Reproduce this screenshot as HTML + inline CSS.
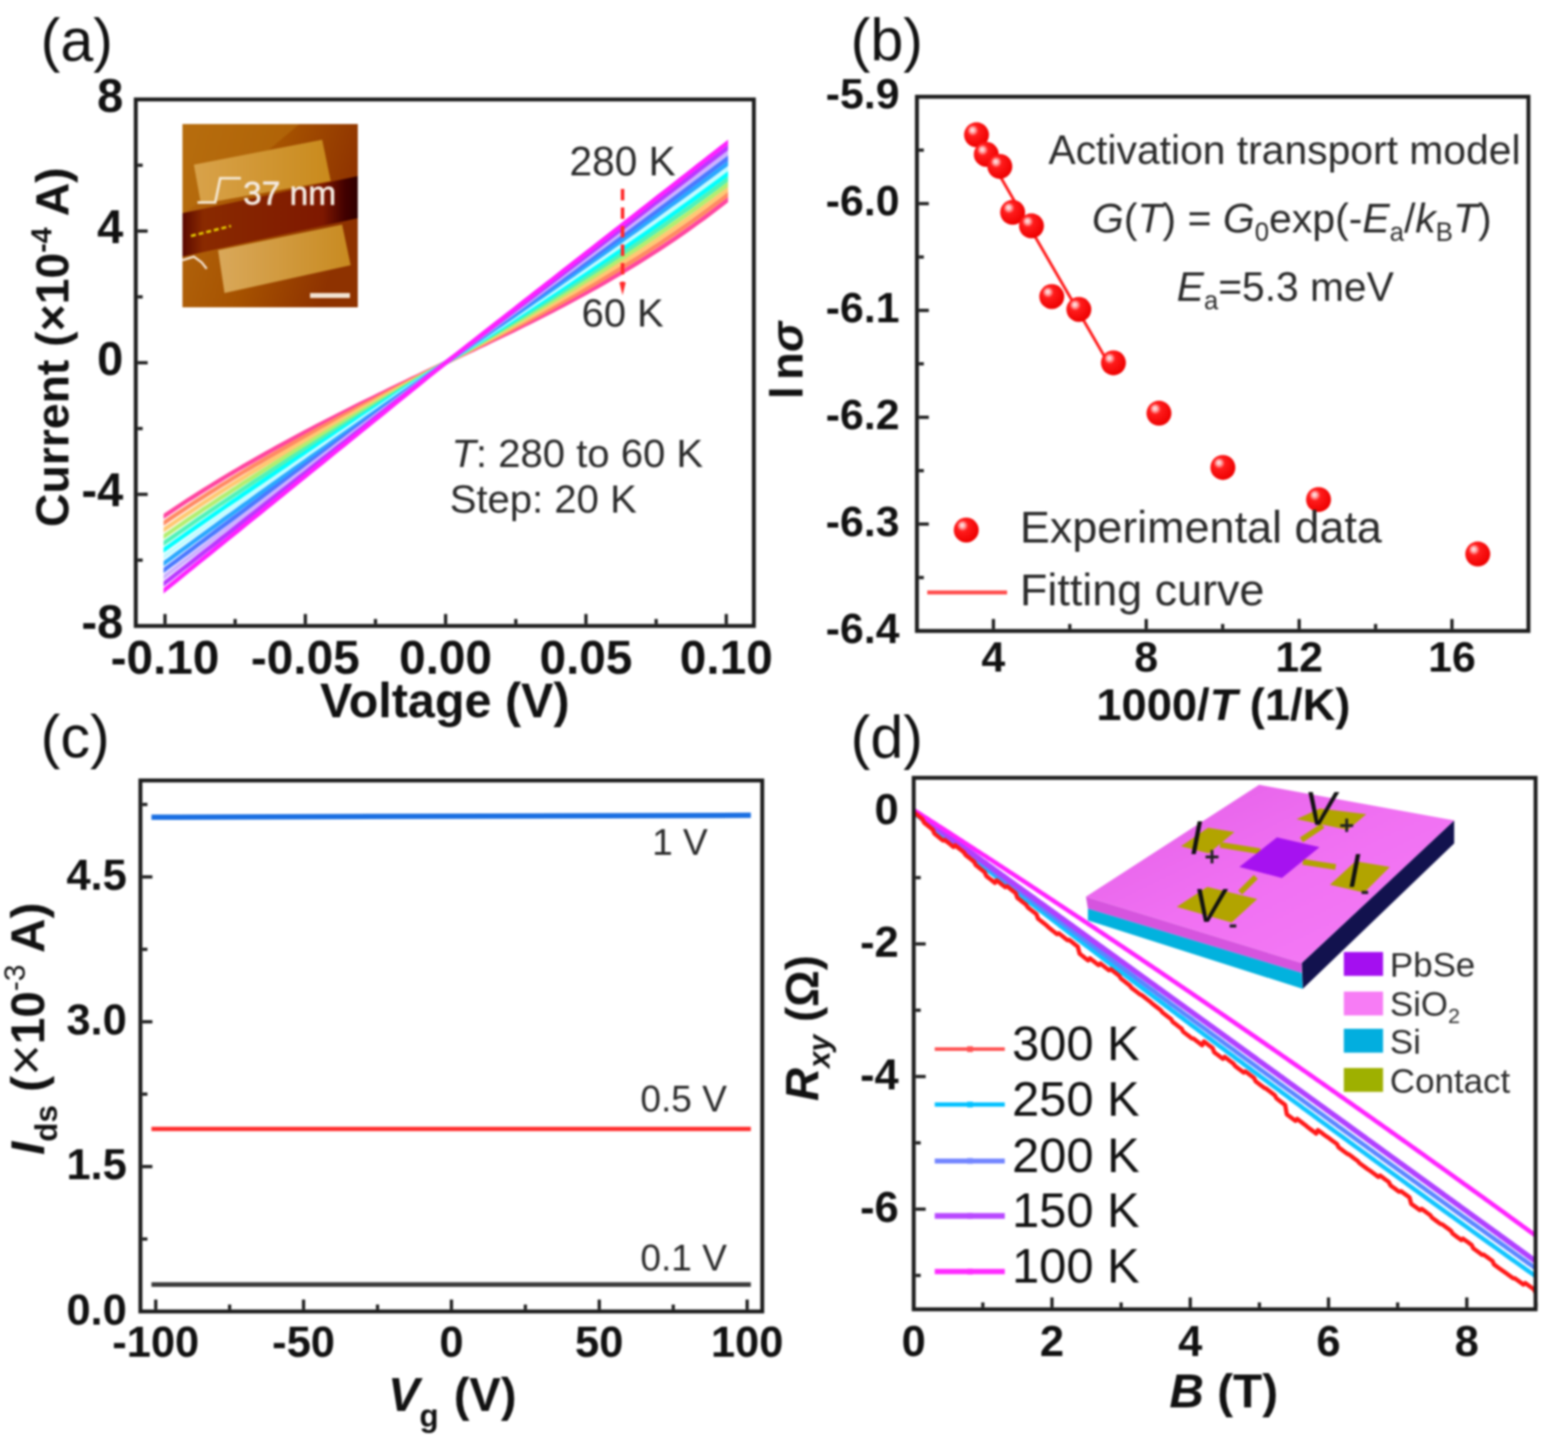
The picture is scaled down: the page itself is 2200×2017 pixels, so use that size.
<!DOCTYPE html>
<html><head><meta charset="utf-8"><title>Figure</title>
<style>
html,body{margin:0;padding:0;background:#fff;}
body{width:2200px;height:2017px;overflow:hidden;}
svg{display:block;font-family:'Liberation Sans', Arial, Helvetica, sans-serif;filter:blur(1.4px);}
</style></head>
<body>
<svg width="2200" height="2017" viewBox="0 0 2200 2017">
<rect width="2200" height="2017" fill="#fff"/>
<text x="57" y="84.5" font-size="83" font-weight="normal" font-style="normal" text-anchor="start" fill="#111" >(a)</text>
<text x="1193.5" y="85" font-size="83" font-weight="normal" font-style="normal" text-anchor="start" fill="#111" >(b)</text>
<text x="57" y="1062" font-size="83" font-weight="normal" font-style="normal" text-anchor="start" fill="#111" >(c)</text>
<text x="1193.5" y="1063" font-size="83" font-weight="normal" font-style="normal" text-anchor="start" fill="#111" >(d)</text>
<defs>
<linearGradient id="afmbg" x1="0" y1="0" x2="1" y2="0.3">
<stop offset="0" stop-color="#b56a10"/><stop offset="0.55" stop-color="#a65200"/><stop offset="1" stop-color="#8e3200"/>
</linearGradient>
<linearGradient id="elec1" x1="0" y1="0" x2="1" y2="0">
<stop offset="0" stop-color="#d8a24a"/><stop offset="1" stop-color="#c98a1c"/>
</linearGradient>
<linearGradient id="elec2" x1="0" y1="0" x2="1" y2="0">
<stop offset="0" stop-color="#d9a85a"/><stop offset="1" stop-color="#c88a20"/>
</linearGradient>
<linearGradient id="flake" x1="0" y1="0" x2="1" y2="0">
<stop offset="0" stop-color="#5a0800"/><stop offset="0.12" stop-color="#8a2a00"/><stop offset="0.8" stop-color="#7e1800"/><stop offset="0.93" stop-color="#400000"/><stop offset="1" stop-color="#300000"/>
</linearGradient>
<radialGradient id="ball" cx="0.4" cy="0.38" r="0.62" fx="0.33" fy="0.3">
<stop offset="0" stop-color="#fff2f2"/><stop offset="0.16" stop-color="#ffb0b0"/><stop offset="0.36" stop-color="#ff1c1c"/><stop offset="1" stop-color="#ee0000"/>
</radialGradient>
<linearGradient id="topface" x1="0" y1="0" x2="1" y2="1">
<stop offset="0" stop-color="#e25ee6"/><stop offset="0.5" stop-color="#f070f2"/><stop offset="1" stop-color="#f57cf5"/>
</linearGradient>
<clipPath id="clipA"><rect x="193" y="142" width="862" height="733"/></clipPath>
</defs>
<g>
<rect x="256" y="174" width="246" height="257" fill="url(#afmbg)"/>
<polygon points="256,174 420,174 330,250 256,300" fill="#b8700e" opacity="0.6"/>
<polygon points="272,231 452,196 464,254 282,286" fill="url(#elec1)"/>
<polygon points="256,299 502,247 502,306 256,360" fill="url(#flake)"/>
<polygon points="306,351 480,315 492,372 315,411" fill="url(#elec2)"/>
<polyline points="277,284 302,284 309,250 338,250" fill="none" stroke="#f5ead8" stroke-width="3.5"/>
<text x="341" y="287" font-size="47" font-weight="normal" fill="#f4ebe2" stroke="#f4ebe2" stroke-width="0.8" font-family="'Liberation Sans', Arial, Helvetica, sans-serif">37 nm</text>
<line x1="268" y1="331" x2="324" y2="317" stroke="#e8d000" stroke-width="3.5" stroke-dasharray="7,4"/>
<rect x="435" y="411" width="56" height="7" fill="#f2e2d2"/>
<polyline points="256,365 272,360 283,368 290,377" fill="none" stroke="#f5e6d6" stroke-width="3"/>
</g>
<clipPath id="rbclip"><rect x="229.5" y="150" width="792" height="720"/></clipPath>
<g clip-path="url(#rbclip)">
<polyline points="215.7,733.8 223.6,728.4 231.5,723 239.4,717.7 247.2,712.4 255.1,707.3 263,702.1 270.9,697.1 278.7,692.1 286.6,687.1 294.5,682.2 302.4,677.4 310.2,672.6 318.1,667.8 326,663.1 333.9,658.5 341.7,653.9 349.6,649.3 357.5,644.8 365.4,640.3 373.2,635.9 381.1,631.5 389,627.2 396.9,622.9 404.8,618.6 412.6,614.4 420.5,610.2 428.4,606 436.2,601.9 444.1,597.7 452,593.7 459.9,589.6 467.8,585.6 475.6,581.6 483.5,577.6 491.4,573.7 499.2,569.7 507.1,565.8 515,561.9 522.9,558.1 530.8,554.2 538.6,550.4 546.5,546.5 554.4,542.7 562.2,538.9 570.1,535.1 578,531.3 585.9,527.6 593.8,523.8 601.6,520 609.5,516.3 617.4,512.5 625.2,508.8 633.1,505 641,501.3 648.9,497.6 656.8,493.9 664.6,490.2 672.5,486.4 680.4,482.7 688.2,478.9 696.1,475.1 704,471.3 711.9,467.5 719.8,463.7 727.6,459.8 735.5,455.9 743.4,452 751.2,448 759.1,444.1 767,440.1 774.9,436 782.8,431.9 790.6,427.8 798.5,423.6 806.4,419.4 814.2,415.2 822.1,410.9 830,406.5 837.9,402.1 845.8,397.6 853.6,393.1 861.5,388.5 869.4,383.9 877.2,379.2 885.1,374.5 893,369.6 900.9,364.8 908.8,359.8 916.6,354.8 924.5,349.7 932.4,344.5 940.2,339.2 948.1,333.9 956,328.5 963.9,323 971.8,317.4 979.6,311.7 987.5,306 995.4,300.1 1003.2,294.2 1011.1,288.1 1019,282 1026.9,275.8 1034.8,269.4" fill="none" stroke="#ff45a0" stroke-width="6" stroke-linejoin="round"/>
<polyline points="215.7,743.4 223.6,737.9 231.5,732.5 239.4,727.1 247.2,721.8 255.1,716.5 263,711.3 270.9,706.1 278.7,701 286.6,695.9 294.5,690.9 302.4,686 310.2,681 318.1,676.2 326,671.3 333.9,666.5 341.7,661.8 349.6,657.1 357.5,652.4 365.4,647.8 373.2,643.2 381.1,638.6 389,634.1 396.9,629.6 404.8,625.1 412.6,620.7 420.5,616.3 428.4,611.9 436.2,607.6 444.1,603.2 452,599 459.9,594.7 467.8,590.4 475.6,586.2 483.5,582 491.4,577.8 499.2,573.7 507.1,569.5 515,565.4 522.9,561.3 530.8,557.2 538.6,553.1 546.5,549 554.4,545 562.2,540.9 570.1,536.9 578,532.9 585.9,528.8 593.8,524.8 601.6,520.8 609.5,516.8 617.4,512.8 625.2,508.8 633.1,504.8 641,500.8 648.9,496.9 656.8,492.9 664.6,488.9 672.5,484.9 680.4,480.9 688.2,476.9 696.1,472.9 704,468.8 711.9,464.8 719.8,460.7 727.6,456.6 735.5,452.5 743.4,448.3 751.2,444.2 759.1,440 767,435.7 774.9,431.5 782.8,427.2 790.6,422.9 798.5,418.5 806.4,414.1 814.2,409.7 822.1,405.2 830,400.6 837.9,396.1 845.8,391.5 853.6,386.8 861.5,382.1 869.4,377.3 877.2,372.5 885.1,367.6 893,362.7 900.9,357.7 908.8,352.7 916.6,347.6 924.5,342.4 932.4,337.1 940.2,331.8 948.1,326.5 956,321 963.9,315.5 971.8,309.9 979.6,304.2 987.5,298.5 995.4,292.7 1003.2,286.7 1011.1,280.8 1019,274.7 1026.9,268.5 1034.8,262.3" fill="none" stroke="#ff8a62" stroke-width="6" stroke-linejoin="round"/>
<polyline points="215.7,752.9 223.6,747.4 231.5,741.9 239.4,736.5 247.2,731.1 255.1,725.7 263,720.4 270.9,715.2 278.7,710 286.6,704.8 294.5,699.7 302.4,694.6 310.2,689.5 318.1,684.5 326,679.5 333.9,674.6 341.7,669.7 349.6,664.8 357.5,660 365.4,655.2 373.2,650.4 381.1,645.7 389,641 396.9,636.3 404.8,631.6 412.6,627 420.5,622.4 428.4,617.8 436.2,613.3 444.1,608.8 452,604.2 459.9,599.8 467.8,595.3 475.6,590.9 483.5,586.4 491.4,582 499.2,577.6 507.1,573.2 515,568.9 522.9,564.5 530.8,560.2 538.6,555.9 546.5,551.5 554.4,547.2 562.2,542.9 570.1,538.6 578,534.4 585.9,530.1 593.8,525.8 601.6,521.5 609.5,517.3 617.4,513 625.2,508.8 633.1,504.5 641,500.3 648.9,496.1 656.8,491.9 664.6,487.6 672.5,483.4 680.4,479.2 688.2,474.9 696.1,470.6 704,466.4 711.9,462.1 719.8,457.7 727.6,453.4 735.5,449.1 743.4,444.7 751.2,440.3 759.1,435.9 767,431.4 774.9,427 782.8,422.5 790.6,418 798.5,413.4 806.4,408.8 814.2,404.2 822.1,399.5 830,394.8 837.9,390.1 845.8,385.3 853.6,380.5 861.5,375.7 869.4,370.8 877.2,365.8 885.1,360.8 893,355.8 900.9,350.7 908.8,345.6 916.6,340.4 924.5,335.1 932.4,329.8 940.2,324.5 948.1,319 956,313.6 963.9,308 971.8,302.4 979.6,296.7 987.5,291 995.4,285.2 1003.2,279.3 1011.1,273.4 1019,267.4 1026.9,261.3 1034.8,255.1" fill="none" stroke="#ffc872" stroke-width="6" stroke-linejoin="round"/>
<polyline points="215.7,762.5 223.6,756.9 231.5,751.4 239.4,745.9 247.2,740.4 255.1,735 263,729.6 270.9,724.2 278.7,718.9 286.6,713.6 294.5,708.4 302.4,703.2 310.2,698 318.1,692.9 326,687.7 333.9,682.7 341.7,677.6 349.6,672.6 357.5,667.6 365.4,662.6 373.2,657.7 381.1,652.8 389,647.9 396.9,643 404.8,638.1 412.6,633.3 420.5,628.5 428.4,623.7 436.2,619 444.1,614.3 452,609.5 459.9,604.8 467.8,600.1 475.6,595.5 483.5,590.8 491.4,586.2 499.2,581.6 507.1,576.9 515,572.3 522.9,567.8 530.8,563.2 538.6,558.6 546.5,554 554.4,549.5 562.2,544.9 570.1,540.4 578,535.9 585.9,531.3 593.8,526.8 601.6,522.3 609.5,517.8 617.4,513.3 625.2,508.8 633.1,504.3 641,499.8 648.9,495.4 656.8,490.9 664.6,486.4 672.5,481.9 680.4,477.4 688.2,472.9 696.1,468.4 704,463.9 711.9,459.4 719.8,454.8 727.6,450.3 735.5,445.7 743.4,441.1 751.2,436.5 759.1,431.9 767,427.2 774.9,422.5 782.8,417.8 790.6,413.1 798.5,408.4 806.4,403.6 814.2,398.8 822.1,394 830,389.1 837.9,384.2 845.8,379.3 853.6,374.3 861.5,369.3 869.4,364.3 877.2,359.2 885.1,354.1 893,349 900.9,343.8 908.8,338.5 916.6,333.3 924.5,327.9 932.4,322.6 940.2,317.1 948.1,311.7 956,306.1 963.9,300.6 971.8,295 979.6,289.3 987.5,283.5 995.4,277.8 1003.2,271.9 1011.1,266 1019,260 1026.9,254 1034.8,247.9" fill="none" stroke="#b2ee70" stroke-width="6" stroke-linejoin="round"/>
<polyline points="215.7,772.1 223.6,766.4 231.5,760.8 239.4,755.2 247.2,749.7 255.1,744.2 263,738.7 270.9,733.3 278.7,727.8 286.6,722.5 294.5,717.1 302.4,711.8 310.2,706.4 318.1,701.2 326,695.9 333.9,690.7 341.7,685.5 349.6,680.3 357.5,675.1 365.4,670 373.2,664.9 381.1,659.8 389,654.7 396.9,649.7 404.8,644.6 412.6,639.6 420.5,634.6 428.4,629.6 436.2,624.7 444.1,619.7 452,614.8 459.9,609.9 467.8,605 475.6,600.1 483.5,595.2 491.4,590.3 499.2,585.5 507.1,580.6 515,575.8 522.9,571 530.8,566.1 538.6,561.3 546.5,556.5 554.4,551.7 562.2,546.9 570.1,542.2 578,537.4 585.9,532.6 593.8,527.8 601.6,523.1 609.5,518.3 617.4,513.5 625.2,508.8 633.1,504 641,499.3 648.9,494.6 656.8,489.9 664.6,485.2 672.5,480.5 680.4,475.7 688.2,471 696.1,466.3 704,461.5 711.9,456.7 719.8,452 727.6,447.2 735.5,442.4 743.4,437.6 751.2,432.8 759.1,427.9 767,423.1 774.9,418.2 782.8,413.3 790.6,408.4 798.5,403.4 806.4,398.5 814.2,393.5 822.1,388.5 830,383.5 837.9,378.4 845.8,373.3 853.6,368.2 861.5,363.1 869.4,357.9 877.2,352.7 885.1,347.5 893,342.2 900.9,336.9 908.8,331.6 916.6,326.2 924.5,320.8 932.4,315.4 940.2,309.9 948.1,304.4 956,298.8 963.9,293.2 971.8,287.6 979.6,281.9 987.5,276.1 995.4,270.3 1003.2,264.5 1011.1,258.6 1019,252.7 1026.9,246.8 1034.8,240.7" fill="none" stroke="#50f2b8" stroke-width="6" stroke-linejoin="round"/>
<polyline points="215.7,781.7 223.6,775.9 231.5,770.3 239.4,764.6 247.2,759 255.1,753.4 263,747.8 270.9,742.3 278.7,736.7 286.6,731.2 294.5,725.8 302.4,720.3 310.2,714.9 318.1,709.4 326,704 333.9,698.7 341.7,693.3 349.6,688 357.5,682.6 365.4,677.3 373.2,672 381.1,666.8 389,661.5 396.9,656.3 404.8,651 412.6,645.8 420.5,640.6 428.4,635.5 436.2,630.3 444.1,625.1 452,620 459.9,614.9 467.8,609.7 475.6,604.6 483.5,599.5 491.4,594.4 499.2,589.3 507.1,584.3 515,579.2 522.9,574.1 530.8,569.1 538.6,564 546.5,559 554.4,553.9 562.2,548.9 570.1,543.9 578,538.9 585.9,533.8 593.8,528.8 601.6,523.8 609.5,518.8 617.4,513.8 625.2,508.8 633.1,503.8 641,498.9 648.9,493.9 656.8,489 664.6,484 672.5,479.1 680.4,474.1 688.2,469.1 696.1,464.2 704,459.2 711.9,454.2 719.8,449.2 727.6,444.2 735.5,439.2 743.4,434.1 751.2,429.1 759.1,424.1 767,419 774.9,413.9 782.8,408.8 790.6,403.7 798.5,398.6 806.4,393.5 814.2,388.3 822.1,383.1 830,377.9 837.9,372.7 845.8,367.5 853.6,362.2 861.5,356.9 869.4,351.6 877.2,346.3 885.1,340.9 893,335.6 900.9,330.2 908.8,324.7 916.6,319.3 924.5,313.8 932.4,308.3 940.2,302.7 948.1,297.1 956,291.5 963.9,285.9 971.8,280.2 979.6,274.5 987.5,268.8 995.4,263 1003.2,257.2 1011.1,251.3 1019,245.4 1026.9,239.5 1034.8,233.5" fill="none" stroke="#00ffff" stroke-width="6" stroke-linejoin="round"/>
<polyline points="215.7,791.3 223.6,785.5 231.5,779.7 239.4,774 247.2,768.3 255.1,762.6 263,756.9 270.9,751.3 278.7,745.6 286.6,740 294.5,734.4 302.4,728.8 310.2,723.2 318.1,717.6 326,712.1 333.9,706.6 341.7,701.1 349.6,695.6 357.5,690.1 365.4,684.6 373.2,679.1 381.1,673.7 389,668.2 396.9,662.8 404.8,657.4 412.6,652 420.5,646.6 428.4,641.2 436.2,635.8 444.1,630.5 452,625.1 459.9,619.8 467.8,614.4 475.6,609.1 483.5,603.8 491.4,598.5 499.2,593.1 507.1,587.8 515,582.5 522.9,577.2 530.8,572 538.6,566.7 546.5,561.4 554.4,556.1 562.2,550.8 570.1,545.6 578,540.3 585.9,535 593.8,529.8 601.6,524.5 609.5,519.3 617.4,514 625.2,508.8 633.1,503.6 641,498.4 648.9,493.2 656.8,488 664.6,482.9 672.5,477.7 680.4,472.5 688.2,467.3 696.1,462.1 704,456.9 711.9,451.7 719.8,446.5 727.6,441.3 735.5,436 743.4,430.8 751.2,425.6 759.1,420.3 767,415 774.9,409.8 782.8,404.5 790.6,399.2 798.5,393.9 806.4,388.6 814.2,383.2 822.1,377.9 830,372.5 837.9,367.2 845.8,361.8 853.6,356.4 861.5,350.9 869.4,345.5 877.2,340 885.1,334.6 893,329.1 900.9,323.5 908.8,318 916.6,312.5 924.5,306.9 932.4,301.3 940.2,295.7 948.1,290 956,284.3 963.9,278.7 971.8,272.9 979.6,267.2 987.5,261.4 995.4,255.6 1003.2,249.8 1011.1,244 1019,238.1 1026.9,232.2 1034.8,226.3" fill="none" stroke="#c4fbff" stroke-width="6" stroke-linejoin="round"/>
<polyline points="215.7,800.9 223.6,795 231.5,789.2 239.4,783.4 247.2,777.5 255.1,771.7 263,766 270.9,760.2 278.7,754.4 286.6,748.7 294.5,742.9 302.4,737.2 310.2,731.5 318.1,725.8 326,720.1 333.9,714.4 341.7,708.7 349.6,703.1 357.5,697.4 365.4,691.8 373.2,686.1 381.1,680.5 389,674.9 396.9,669.3 404.8,663.6 412.6,658 420.5,652.5 428.4,646.9 436.2,641.3 444.1,635.7 452,630.2 459.9,624.6 467.8,619 475.6,613.5 483.5,608 491.4,602.4 499.2,596.9 507.1,591.4 515,585.8 522.9,580.3 530.8,574.8 538.6,569.3 546.5,563.8 554.4,558.3 562.2,552.7 570.1,547.2 578,541.7 585.9,536.2 593.8,530.7 601.6,525.2 609.5,519.7 617.4,514.2 625.2,508.8 633.1,503.4 641,498 648.9,492.6 656.8,487.2 664.6,481.8 672.5,476.4 680.4,471 688.2,465.6 696.1,460.1 704,454.7 711.9,449.3 719.8,443.9 727.6,438.5 735.5,433 743.4,427.6 751.2,422.1 759.1,416.7 767,411.2 774.9,405.8 782.8,400.3 790.6,394.8 798.5,389.3 806.4,383.9 814.2,378.3 822.1,372.8 830,367.3 837.9,361.8 845.8,356.2 853.6,350.7 861.5,345.1 869.4,339.5 877.2,333.9 885.1,328.3 893,322.7 900.9,317.1 908.8,311.4 916.6,305.8 924.5,300.1 932.4,294.4 940.2,288.7 948.1,283 956,277.3 963.9,271.5 971.8,265.8 979.6,260 987.5,254.2 995.4,248.3 1003.2,242.5 1011.1,236.7 1019,230.8 1026.9,224.9 1034.8,219" fill="none" stroke="#2aa8ff" stroke-width="6" stroke-linejoin="round"/>
<polyline points="215.7,810.5 223.6,804.6 231.5,798.6 239.4,792.7 247.2,786.8 255.1,780.9 263,775 270.9,769.1 278.7,763.2 286.6,757.3 294.5,751.4 302.4,745.5 310.2,739.7 318.1,733.8 326,728 333.9,722.1 341.7,716.3 349.6,710.4 357.5,704.6 365.4,698.8 373.2,693 381.1,687.2 389,681.4 396.9,675.6 404.8,669.8 412.6,664 420.5,658.2 428.4,652.4 436.2,646.6 444.1,640.9 452,635.1 459.9,629.3 467.8,623.5 475.6,617.8 483.5,612 491.4,606.3 499.2,600.5 507.1,594.8 515,589 522.9,583.3 530.8,577.5 538.6,571.8 546.5,566.1 554.4,560.3 562.2,554.6 570.1,548.9 578,543.1 585.9,537.4 593.8,531.7 601.6,525.9 609.5,520.2 617.4,514.5 625.2,508.8 633.1,503.1 641,497.5 648.9,491.9 656.8,486.3 664.6,480.7 672.5,475.1 680.4,469.5 688.2,463.9 696.1,458.3 704,452.7 711.9,447 719.8,441.4 727.6,435.8 735.5,430.2 743.4,424.5 751.2,418.9 759.1,413.3 767,407.6 774.9,402 782.8,396.3 790.6,390.7 798.5,385 806.4,379.3 814.2,373.7 822.1,368 830,362.3 837.9,356.6 845.8,350.9 853.6,345.2 861.5,339.5 869.4,333.8 877.2,328.1 885.1,322.3 893,316.6 900.9,310.8 908.8,305.1 916.6,299.3 924.5,293.5 932.4,287.7 940.2,282 948.1,276.2 956,270.3 963.9,264.5 971.8,258.7 979.6,252.8 987.5,247 995.4,241.1 1003.2,235.2 1011.1,229.4 1019,223.5 1026.9,217.5 1034.8,211.6" fill="none" stroke="#4a78ff" stroke-width="6" stroke-linejoin="round"/>
<polyline points="215.7,820.2 223.6,814.1 231.5,808.1 239.4,802 247.2,796 255.1,789.9 263,783.9 270.9,777.9 278.7,771.8 286.6,765.8 294.5,759.8 302.4,753.7 310.2,747.7 318.1,741.7 326,735.7 333.9,729.7 341.7,723.7 349.6,717.7 357.5,711.7 365.4,705.7 373.2,699.7 381.1,693.7 389,687.7 396.9,681.7 404.8,675.7 412.6,669.7 420.5,663.8 428.4,657.8 436.2,651.8 444.1,645.8 452,639.9 459.9,633.9 467.8,627.9 475.6,621.9 483.5,616 491.4,610 499.2,604 507.1,598.1 515,592.1 522.9,586.2 530.8,580.2 538.6,574.2 546.5,568.3 554.4,562.3 562.2,556.4 570.1,550.4 578,544.5 585.9,538.5 593.8,532.6 601.6,526.6 609.5,520.7 617.4,514.7 625.2,508.8 633.1,502.9 641,497.1 648.9,491.3 656.8,485.5 664.6,479.7 672.5,473.9 680.4,468.1 688.2,462.3 696.1,456.5 704,450.7 711.9,444.9 719.8,439.1 727.6,433.3 735.5,427.5 743.4,421.6 751.2,415.8 759.1,410 767,404.2 774.9,398.4 782.8,392.5 790.6,386.7 798.5,380.9 806.4,375 814.2,369.2 822.1,363.4 830,357.5 837.9,351.7 845.8,345.8 853.6,340 861.5,334.1 869.4,328.3 877.2,322.4 885.1,316.5 893,310.7 900.9,304.8 908.8,298.9 916.6,293 924.5,287.2 932.4,281.3 940.2,275.4 948.1,269.5 956,263.6 963.9,257.7 971.8,251.7 979.6,245.8 987.5,239.9 995.4,234 1003.2,228 1011.1,222.1 1019,216.1 1026.9,210.2 1034.8,204.2" fill="none" stroke="#cdb2ff" stroke-width="6" stroke-linejoin="round"/>
<polyline points="215.7,829.9 223.6,823.7 231.5,817.5 239.4,811.3 247.2,805.2 255.1,799 263,792.8 270.9,786.6 278.7,780.4 286.6,774.2 294.5,768 302.4,761.8 310.2,755.6 318.1,749.5 326,743.3 333.9,737.1 341.7,730.9 349.6,724.7 357.5,718.5 365.4,712.4 373.2,706.2 381.1,700 389,693.8 396.9,687.7 404.8,681.5 412.6,675.3 420.5,669.1 428.4,663 436.2,656.8 444.1,650.6 452,644.4 459.9,638.3 467.8,632.1 475.6,625.9 483.5,619.8 491.4,613.6 499.2,607.4 507.1,601.3 515,595.1 522.9,588.9 530.8,582.7 538.6,576.6 546.5,570.4 554.4,564.2 562.2,558.1 570.1,551.9 578,545.7 585.9,539.6 593.8,533.4 601.6,527.2 609.5,521.1 617.4,514.9 625.2,508.8 633.1,502.8 641,496.8 648.9,490.8 656.8,484.8 664.6,478.8 672.5,472.8 680.4,466.9 688.2,460.9 696.1,454.9 704,448.9 711.9,442.9 719.8,436.9 727.6,430.9 735.5,425 743.4,419 751.2,413 759.1,407 767,401 774.9,395 782.8,389 790.6,383 798.5,377 806.4,371 814.2,365.1 822.1,359.1 830,353.1 837.9,347.1 845.8,341.1 853.6,335.1 861.5,329.1 869.4,323.1 877.2,317.1 885.1,311.1 893,305.1 900.9,299.1 908.8,293.1 916.6,287 924.5,281 932.4,275 940.2,269 948.1,263 956,257 963.9,251 971.8,245 979.6,238.9 987.5,232.9 995.4,226.9 1003.2,220.9 1011.1,214.8 1019,208.8 1026.9,202.8 1034.8,196.8" fill="none" stroke="#b838ff" stroke-width="6" stroke-linejoin="round"/>
<polyline points="215.7,839.7 223.6,833.4 231.5,827 239.4,820.6 247.2,814.3 255.1,807.9 263,801.5 270.9,795.2 278.7,788.8 286.6,782.4 294.5,776.1 302.4,769.7 310.2,763.4 318.1,757 326,750.6 333.9,744.3 341.7,737.9 349.6,731.5 357.5,725.2 365.4,718.8 373.2,712.4 381.1,706.1 389,699.7 396.9,693.3 404.8,687 412.6,680.6 420.5,674.2 428.4,667.9 436.2,661.5 444.1,655.1 452,648.8 459.9,642.4 467.8,636 475.6,629.7 483.5,623.3 491.4,617 499.2,610.6 507.1,604.2 515,597.9 522.9,591.5 530.8,585.1 538.6,578.8 546.5,572.4 554.4,566 562.2,559.7 570.1,553.3 578,546.9 585.9,540.6 593.8,534.2 601.6,527.8 609.5,521.5 617.4,515.1 625.2,508.8 633.1,502.6 641,496.5 648.9,490.3 656.8,484.2 664.6,478 672.5,471.9 680.4,465.7 688.2,459.6 696.1,453.4 704,447.3 711.9,441.2 719.8,435 727.6,428.9 735.5,422.7 743.4,416.6 751.2,410.4 759.1,404.3 767,398.1 774.9,392 782.8,385.9 790.6,379.7 798.5,373.6 806.4,367.4 814.2,361.3 822.1,355.1 830,349 837.9,342.8 845.8,336.7 853.6,330.5 861.5,324.4 869.4,318.3 877.2,312.1 885.1,306 893,299.8 900.9,293.7 908.8,287.5 916.6,281.4 924.5,275.2 932.4,269.1 940.2,263 948.1,256.8 956,250.7 963.9,244.5 971.8,238.4 979.6,232.2 987.5,226.1 995.4,219.9 1003.2,213.8 1011.1,207.6 1019,201.5 1026.9,195.4 1034.8,189.2" fill="none" stroke="#ff20ff" stroke-width="6" stroke-linejoin="round"/>
</g>
<line x1="873.5" y1="265" x2="873.5" y2="400" stroke="#ff2a2a" stroke-width="5" stroke-dasharray="16,10"/>
<polygon points="869,396 878,396 873.5,414" fill="#ff2a2a"/>
<text x="799" y="246" font-size="57" font-weight="normal" font-style="normal" text-anchor="start" fill="#2a2a2a" >280 K</text>
<text x="816" y="458" font-size="56" font-weight="normal" font-style="normal" text-anchor="start" fill="#2a2a2a" >60 K</text>
<text x="633.5" y="655" font-size="56.2" font-weight="normal" font-style="normal" text-anchor="start" fill="#2a2a2a" ><tspan font-style="italic">T</tspan>: 280 to 60 K</text>
<text x="631" y="719" font-size="56.2" font-weight="normal" font-style="normal" text-anchor="start" fill="#2a2a2a" >Step: 20 K</text>
<rect x="190.5" y="139.5" width="867.2" height="738.5" fill="none" stroke="#1c1c1c" stroke-width="5.5"/>
<line x1="231.5" y1="875.2" x2="231.5" y2="861.2" stroke="#1c1c1c" stroke-width="4.5"/>
<line x1="329.9" y1="875.2" x2="329.9" y2="868.2" stroke="#1c1c1c" stroke-width="4.5"/>
<line x1="428.4" y1="875.2" x2="428.4" y2="861.2" stroke="#1c1c1c" stroke-width="4.5"/>
<line x1="526.8" y1="875.2" x2="526.8" y2="868.2" stroke="#1c1c1c" stroke-width="4.5"/>
<line x1="625.2" y1="875.2" x2="625.2" y2="861.2" stroke="#1c1c1c" stroke-width="4.5"/>
<line x1="723.7" y1="875.2" x2="723.7" y2="868.2" stroke="#1c1c1c" stroke-width="4.5"/>
<line x1="822.1" y1="875.2" x2="822.1" y2="861.2" stroke="#1c1c1c" stroke-width="4.5"/>
<line x1="920.6" y1="875.2" x2="920.6" y2="868.2" stroke="#1c1c1c" stroke-width="4.5"/>
<line x1="1019" y1="875.2" x2="1019" y2="861.2" stroke="#1c1c1c" stroke-width="4.5"/>
<line x1="193.2" y1="785.7" x2="200.2" y2="785.7" stroke="#1c1c1c" stroke-width="4.5"/>
<line x1="193.2" y1="693.4" x2="207.2" y2="693.4" stroke="#1c1c1c" stroke-width="4.5"/>
<line x1="193.2" y1="601.1" x2="200.2" y2="601.1" stroke="#1c1c1c" stroke-width="4.5"/>
<line x1="193.2" y1="508.8" x2="207.2" y2="508.8" stroke="#1c1c1c" stroke-width="4.5"/>
<line x1="193.2" y1="416.4" x2="200.2" y2="416.4" stroke="#1c1c1c" stroke-width="4.5"/>
<line x1="193.2" y1="324.1" x2="207.2" y2="324.1" stroke="#1c1c1c" stroke-width="4.5"/>
<line x1="193.2" y1="231.8" x2="200.2" y2="231.8" stroke="#1c1c1c" stroke-width="4.5"/>
<text x="231.5" y="945" font-size="67" font-weight="bold" font-style="normal" text-anchor="middle" fill="#111" >-0.10</text>
<text x="428.4" y="945" font-size="67" font-weight="bold" font-style="normal" text-anchor="middle" fill="#111" >-0.05</text>
<text x="625.2" y="945" font-size="67" font-weight="bold" font-style="normal" text-anchor="middle" fill="#111" >0.00</text>
<text x="822.1" y="945" font-size="67" font-weight="bold" font-style="normal" text-anchor="middle" fill="#111" >0.05</text>
<text x="1019" y="945" font-size="67" font-weight="bold" font-style="normal" text-anchor="middle" fill="#111" >0.10</text>
<text x="173" y="156.5" font-size="66" font-weight="bold" font-style="normal" text-anchor="end" fill="#111" >8</text>
<text x="173" y="341.1" font-size="66" font-weight="bold" font-style="normal" text-anchor="end" fill="#111" >4</text>
<text x="173" y="525.8" font-size="66" font-weight="bold" font-style="normal" text-anchor="end" fill="#111" >0</text>
<text x="173" y="710.4" font-size="66" font-weight="bold" font-style="normal" text-anchor="end" fill="#111" >-4</text>
<text x="173" y="895" font-size="66" font-weight="bold" font-style="normal" text-anchor="end" fill="#111" >-8</text>
<text x="624" y="1006" font-size="68" font-weight="bold" font-style="normal" text-anchor="middle" fill="#111" >Voltage (V)</text>
<text transform="translate(96,487) rotate(-90)" font-size="65" font-weight="bold" text-anchor="middle" fill="#111">Current (×10<tspan font-size="40" dy="-24">-4</tspan><tspan dy="24"> A)</tspan></text>
<rect x="1286.5" y="135.7" width="858" height="749.3" fill="none" stroke="#1c1c1c" stroke-width="5.5"/>
<line x1="1393.8" y1="882.2" x2="1393.8" y2="868.2" stroke="#1c1c1c" stroke-width="4.5"/>
<line x1="1501" y1="882.2" x2="1501" y2="875.2" stroke="#1c1c1c" stroke-width="4.5"/>
<line x1="1608.2" y1="882.2" x2="1608.2" y2="868.2" stroke="#1c1c1c" stroke-width="4.5"/>
<line x1="1715.5" y1="882.2" x2="1715.5" y2="875.2" stroke="#1c1c1c" stroke-width="4.5"/>
<line x1="1822.8" y1="882.2" x2="1822.8" y2="868.2" stroke="#1c1c1c" stroke-width="4.5"/>
<line x1="1930" y1="882.2" x2="1930" y2="875.2" stroke="#1c1c1c" stroke-width="4.5"/>
<line x1="2037.2" y1="882.2" x2="2037.2" y2="868.2" stroke="#1c1c1c" stroke-width="4.5"/>
<line x1="1289.2" y1="210.6" x2="1296.2" y2="210.6" stroke="#1c1c1c" stroke-width="4.5"/>
<line x1="1289.2" y1="285.6" x2="1303.2" y2="285.6" stroke="#1c1c1c" stroke-width="4.5"/>
<line x1="1289.2" y1="360.5" x2="1296.2" y2="360.5" stroke="#1c1c1c" stroke-width="4.5"/>
<line x1="1289.2" y1="435.4" x2="1303.2" y2="435.4" stroke="#1c1c1c" stroke-width="4.5"/>
<line x1="1289.2" y1="510.3" x2="1296.2" y2="510.3" stroke="#1c1c1c" stroke-width="4.5"/>
<line x1="1289.2" y1="585.3" x2="1303.2" y2="585.3" stroke="#1c1c1c" stroke-width="4.5"/>
<line x1="1289.2" y1="660.2" x2="1296.2" y2="660.2" stroke="#1c1c1c" stroke-width="4.5"/>
<line x1="1289.2" y1="735.1" x2="1303.2" y2="735.1" stroke="#1c1c1c" stroke-width="4.5"/>
<line x1="1289.2" y1="810.1" x2="1296.2" y2="810.1" stroke="#1c1c1c" stroke-width="4.5"/>
<text x="1393.8" y="942" font-size="60" font-weight="bold" font-style="normal" text-anchor="middle" fill="#111" >4</text>
<text x="1608.2" y="942" font-size="60" font-weight="bold" font-style="normal" text-anchor="middle" fill="#111" >8</text>
<text x="1822.8" y="942" font-size="60" font-weight="bold" font-style="normal" text-anchor="middle" fill="#111" >12</text>
<text x="2037.2" y="942" font-size="60" font-weight="bold" font-style="normal" text-anchor="middle" fill="#111" >16</text>
<text x="1262" y="152.2" font-size="60" font-weight="bold" font-style="normal" text-anchor="end" fill="#111" >-5.9</text>
<text x="1262" y="302.1" font-size="60" font-weight="bold" font-style="normal" text-anchor="end" fill="#111" >-6.0</text>
<text x="1262" y="451.9" font-size="60" font-weight="bold" font-style="normal" text-anchor="end" fill="#111" >-6.1</text>
<text x="1262" y="601.8" font-size="60" font-weight="bold" font-style="normal" text-anchor="end" fill="#111" >-6.2</text>
<text x="1262" y="751.6" font-size="60" font-weight="bold" font-style="normal" text-anchor="end" fill="#111" >-6.3</text>
<text x="1262" y="901.5" font-size="60" font-weight="bold" font-style="normal" text-anchor="end" fill="#111" >-6.4</text>
<line x1="1368" y1="186.5" x2="1562" y2="521.3" stroke="#ff1a1a" stroke-width="4"/>
<circle cx="1370.1" cy="189.1" r="17.5" fill="url(#ball)"/>
<circle cx="1383.8" cy="216.5" r="17.5" fill="url(#ball)"/>
<circle cx="1402.8" cy="233.4" r="17.5" fill="url(#ball)"/>
<circle cx="1420.8" cy="297.8" r="17.5" fill="url(#ball)"/>
<circle cx="1447.2" cy="316.8" r="17.5" fill="url(#ball)"/>
<circle cx="1475.7" cy="416" r="17.5" fill="url(#ball)"/>
<circle cx="1513.7" cy="434" r="17.5" fill="url(#ball)"/>
<circle cx="1562.2" cy="508.9" r="17.5" fill="url(#ball)"/>
<circle cx="1626.1" cy="579.6" r="17.5" fill="url(#ball)"/>
<circle cx="1715.8" cy="655.7" r="17.5" fill="url(#ball)"/>
<circle cx="1850" cy="700.7" r="17.5" fill="url(#ball)"/>
<circle cx="2073.4" cy="777.1" r="17.5" fill="url(#ball)"/>
<circle cx="1355.7" cy="743.5" r="17.5" fill="url(#ball)"/>
<line x1="1301" y1="831" x2="1413" y2="831" stroke="#ff4848" stroke-width="5.5"/>
<text x="1431" y="761" font-size="63" font-weight="normal" font-style="normal" text-anchor="start" fill="#2a2a2a" >Experimental data</text>
<text x="1431" y="849" font-size="63" font-weight="normal" font-style="normal" text-anchor="start" fill="#2a2a2a" >Fitting curve</text>
<text x="1471" y="230" font-size="57.3" font-weight="normal" font-style="normal" text-anchor="start" fill="#2a2a2a" >Activation transport model</text>
<text x="1532" y="326" font-size="57.5" fill="#2a2a2a"><tspan font-style="italic">G</tspan>(<tspan font-style="italic">T</tspan>) = <tspan font-style="italic">G</tspan><tspan font-size="36" dy="12">0</tspan><tspan dy="-12">exp(-</tspan><tspan font-style="italic">E</tspan><tspan font-size="36" dy="12">a</tspan><tspan dy="-12">/</tspan><tspan font-style="italic">k</tspan><tspan font-size="36" dy="12">B</tspan><tspan dy="-12" font-style="italic">T</tspan>)</text>
<text x="1651" y="422" font-size="57.2" fill="#2a2a2a"><tspan font-style="italic">E</tspan><tspan font-size="36" dy="12">a</tspan><tspan dy="-12">=5.3 meV</tspan></text>
<text x="1716.5" y="1009.5" font-size="63.5" font-weight="bold" font-style="normal" text-anchor="middle" fill="#111" >1000/<tspan font-style="italic">T</tspan> (1/K)</text>
<text transform="translate(1126,505.5) rotate(-90)" font-size="64" font-weight="bold" text-anchor="middle" fill="#111">l<tspan dx="9">n</tspan><tspan font-style="italic">σ</tspan></text>
<line x1="212.5" y1="1146.3" x2="1053.5" y2="1143.6" stroke="#1a6fe2" stroke-width="7.5"/>
<line x1="212.5" y1="1583.6" x2="1053.5" y2="1583.6" stroke="#ff2b2b" stroke-width="6"/>
<line x1="212.5" y1="1801.8" x2="1053.5" y2="1801.8" stroke="#3a3a3a" stroke-width="6.5"/>
<text x="915" y="1199" font-size="52" font-weight="normal" font-style="normal" text-anchor="start" fill="#2a2a2a" >1 V</text>
<text x="898.5" y="1558.5" font-size="52" font-weight="normal" font-style="normal" text-anchor="start" fill="#2a2a2a" >0.5 V</text>
<text x="898.5" y="1782" font-size="52" font-weight="normal" font-style="normal" text-anchor="start" fill="#2a2a2a" >0.1 V</text>
<rect x="197" y="1094.7" width="872.5" height="744.8" fill="none" stroke="#1c1c1c" stroke-width="5.5"/>
<line x1="218.5" y1="1836.8" x2="218.5" y2="1822.8" stroke="#1c1c1c" stroke-width="4.5"/>
<line x1="322.2" y1="1836.8" x2="322.2" y2="1829.8" stroke="#1c1c1c" stroke-width="4.5"/>
<line x1="425.9" y1="1836.8" x2="425.9" y2="1822.8" stroke="#1c1c1c" stroke-width="4.5"/>
<line x1="529.7" y1="1836.8" x2="529.7" y2="1829.8" stroke="#1c1c1c" stroke-width="4.5"/>
<line x1="633.4" y1="1836.8" x2="633.4" y2="1822.8" stroke="#1c1c1c" stroke-width="4.5"/>
<line x1="737.1" y1="1836.8" x2="737.1" y2="1829.8" stroke="#1c1c1c" stroke-width="4.5"/>
<line x1="840.8" y1="1836.8" x2="840.8" y2="1822.8" stroke="#1c1c1c" stroke-width="4.5"/>
<line x1="944.6" y1="1836.8" x2="944.6" y2="1829.8" stroke="#1c1c1c" stroke-width="4.5"/>
<line x1="1048.3" y1="1836.8" x2="1048.3" y2="1822.8" stroke="#1c1c1c" stroke-width="4.5"/>
<line x1="199.8" y1="1737.9" x2="206.8" y2="1737.9" stroke="#1c1c1c" stroke-width="4.5"/>
<line x1="199.8" y1="1636.3" x2="213.8" y2="1636.3" stroke="#1c1c1c" stroke-width="4.5"/>
<line x1="199.8" y1="1534.7" x2="206.8" y2="1534.7" stroke="#1c1c1c" stroke-width="4.5"/>
<line x1="199.8" y1="1433.2" x2="213.8" y2="1433.2" stroke="#1c1c1c" stroke-width="4.5"/>
<line x1="199.8" y1="1331.6" x2="206.8" y2="1331.6" stroke="#1c1c1c" stroke-width="4.5"/>
<line x1="199.8" y1="1230" x2="213.8" y2="1230" stroke="#1c1c1c" stroke-width="4.5"/>
<line x1="199.8" y1="1128.4" x2="206.8" y2="1128.4" stroke="#1c1c1c" stroke-width="4.5"/>
<text x="218.5" y="1903" font-size="61" font-weight="bold" font-style="normal" text-anchor="middle" fill="#111" >-100</text>
<text x="425.9" y="1903" font-size="61" font-weight="bold" font-style="normal" text-anchor="middle" fill="#111" >-50</text>
<text x="633.4" y="1903" font-size="61" font-weight="bold" font-style="normal" text-anchor="middle" fill="#111" >0</text>
<text x="840.8" y="1903" font-size="61" font-weight="bold" font-style="normal" text-anchor="middle" fill="#111" >50</text>
<text x="1048.3" y="1903" font-size="61" font-weight="bold" font-style="normal" text-anchor="middle" fill="#111" >100</text>
<text x="178" y="1857.5" font-size="61" font-weight="bold" font-style="normal" text-anchor="end" fill="#111" >0.0</text>
<text x="178" y="1654.3" font-size="61" font-weight="bold" font-style="normal" text-anchor="end" fill="#111" >1.5</text>
<text x="178" y="1451.2" font-size="61" font-weight="bold" font-style="normal" text-anchor="end" fill="#111" >3.0</text>
<text x="178" y="1248" font-size="61" font-weight="bold" font-style="normal" text-anchor="end" fill="#111" >4.5</text>
<text x="634.5" y="1979" font-size="66" font-weight="bold" text-anchor="middle" fill="#111"><tspan font-style="italic">V</tspan><tspan font-size="44" dy="22">g</tspan><tspan dy="-22" dx="3"> (V)</tspan></text>
<text transform="translate(61.5,1443) rotate(-90)" font-size="67" font-weight="bold" text-anchor="middle" fill="#111"><tspan font-style="italic">I</tspan><tspan font-size="44" dy="18">ds</tspan><tspan dy="-18"> (</tspan><tspan font-weight="normal" font-size="76">×</tspan>10<tspan font-size="42" dy="-27" font-weight="normal">-3</tspan><tspan dy="27"> A)</tspan></text>
<g>
<polygon points="1826.4,1350.8 2040.3,1150.8 2040.3,1183 1827.8,1387" fill="#12124e"/>
<polygon points="1523.6,1257.8 1826.4,1350.8 1826.4,1364.7 1526.4,1274.4" fill="#d654de"/>
<polygon points="1526.4,1274.4 1826.4,1364.7 1827.8,1387 1526.4,1291.1" fill="#02b2de"/>
<polygon points="1766.7,1100.8 2040.3,1150.8 1826.4,1350.8 1523.6,1257.8" fill="url(#topface)"/>
<g stroke="#b2a400" stroke-width="8" fill="none"><line x1="1712" y1="1185" x2="1768" y2="1194"/><line x1="1826" y1="1178" x2="1856" y2="1158"/><line x1="1828" y1="1209" x2="1874" y2="1216"/><line x1="1740" y1="1252" x2="1762" y2="1230"/></g>
<g fill="#b2a400">
<polygon points="1657,1187 1695,1161 1732,1167 1696,1197"/>
<polygon points="1819,1149 1852,1134 1917,1142 1891,1164"/>
<polygon points="1866,1241 1902,1208 1950,1216 1914,1252"/>
<polygon points="1651,1272 1694,1244 1764,1261 1728,1294"/>
</g>
<polygon points="1791.7,1174.4 1851.4,1188.3 1798.6,1231.4 1738.9,1216.1" fill="#a612f0"/>
<g font-size="66" font-style="italic" fill="#111">
<text x="1669" y="1198">I</text><text x="1830" y="1157">V</text><text x="1891" y="1244">I</text><text x="1674" y="1293">V</text>
</g>
<g font-size="36" font-weight="bold" fill="#222"><text x="1690" y="1214">+</text><text x="1879" y="1170">+</text><text x="1909" y="1261">-</text><text x="1724" y="1308">-</text></g>
</g>
<rect x="1885.5" y="1335.3" width="55" height="33.5" fill="#a40ff0"/>
<text x="1950" y="1369.8" font-size="49" font-weight="normal" font-style="normal" text-anchor="start" fill="#2e2e2e" >PbSe</text>
<rect x="1885.5" y="1390.8" width="55" height="33.5" fill="#f77cf5"/>
<text x="1950" y="1425.3" font-size="49" font-weight="normal" font-style="normal" text-anchor="start" fill="#2e2e2e" >SiO<tspan font-size="30" dy="10">2</tspan></text>
<rect x="1885.5" y="1443" width="55" height="33.5" fill="#02aedf"/>
<text x="1950" y="1477.5" font-size="49" font-weight="normal" font-style="normal" text-anchor="start" fill="#2e2e2e" >Si</text>
<rect x="1885.5" y="1498" width="55" height="33.5" fill="#9eb000"/>
<text x="1950" y="1532.5" font-size="49" font-weight="normal" font-style="normal" text-anchor="start" fill="#2e2e2e" >Contact</text>
<polyline points="1282,1140 1284.4,1141.9 1286.8,1143.8 1289.3,1145.7 1291.7,1147.6 1294.1,1149.4 1296.5,1151.3 1299,1153.2 1301.4,1155.1 1303.8,1157 1306.2,1158.9 1308.7,1160.8 1311.1,1162.6 1313.5,1164.5 1315.9,1166.4 1318.4,1168.3 1320.8,1170.2 1323.2,1172.1 1325.6,1173.9 1328,1175.8 1330.5,1177.7 1332.9,1179.6 1335.3,1181.5 1337.7,1183.3 1340.2,1185.2 1342.6,1187.1 1345,1189 1347.4,1190.9 1349.9,1192.7 1352.3,1194.6 1354.7,1196.5 1357.1,1198.4 1359.6,1200.2 1362,1202.1 1364.4,1204 1366.8,1205.9 1369.2,1207.7 1371.7,1209.6 1374.1,1211.5 1376.5,1213.4 1378.9,1215.2 1381.4,1217.1 1383.8,1219 1386.2,1220.8 1388.6,1222.7 1391.1,1224.6 1393.5,1226.4 1395.9,1228.3 1398.3,1230.2 1400.8,1232 1403.2,1233.9 1405.6,1235.8 1408,1237.6 1410.5,1239.5 1412.9,1241.4 1415.3,1243.2 1417.7,1245.1 1420.1,1247 1422.6,1248.8 1425,1250.7 1427.4,1252.6 1429.8,1254.4 1432.3,1256.3 1434.7,1258.1 1437.1,1260 1439.5,1261.9 1442,1263.7 1444.4,1265.6 1446.8,1267.4 1449.2,1269.3 1451.7,1271.1 1454.1,1273 1456.5,1274.9 1458.9,1276.7 1461.3,1278.6 1463.8,1280.4 1466.2,1282.3 1468.6,1284.1 1471,1286 1473.5,1287.8 1475.9,1289.7 1478.3,1291.5 1480.7,1293.4 1483.2,1295.3 1485.6,1297.1 1488,1299 1490.4,1300.8 1492.9,1302.7 1495.3,1304.5 1497.7,1306.4 1500.1,1308.2 1502.5,1310 1505,1311.9 1507.4,1313.7 1509.8,1315.6 1512.2,1317.4 1514.7,1319.3 1517.1,1321.1 1519.5,1323 1521.9,1324.8 1524.4,1326.7 1526.8,1328.5 1529.2,1330.3 1531.6,1332.2 1534.1,1334 1536.5,1335.9 1538.9,1337.7 1541.3,1339.5 1543.8,1341.4 1546.2,1343.2 1548.6,1345.1 1551,1346.9 1553.4,1348.7 1555.9,1350.6 1558.3,1352.4 1560.7,1354.2 1563.1,1356.1 1565.6,1357.9 1568,1359.8 1570.4,1361.6 1572.8,1363.4 1575.3,1365.3 1577.7,1367.1 1580.1,1368.9 1582.5,1370.8 1585,1372.6 1587.4,1374.4 1589.8,1376.2 1592.2,1378.1 1594.6,1379.9 1597.1,1381.7 1599.5,1383.6 1601.9,1385.4 1604.3,1387.2 1606.8,1389 1609.2,1390.9 1611.6,1392.7 1614,1394.5 1616.5,1396.4 1618.9,1398.2 1621.3,1400 1623.7,1401.8 1626.2,1403.6 1628.6,1405.5 1631,1407.3 1633.4,1409.1 1635.8,1410.9 1638.3,1412.8 1640.7,1414.6 1643.1,1416.4 1645.5,1418.2 1648,1420 1650.4,1421.9 1652.8,1423.7 1655.2,1425.5 1657.7,1427.3 1660.1,1429.1 1662.5,1430.9 1664.9,1432.8 1667.4,1434.6 1669.8,1436.4 1672.2,1438.2 1674.6,1440 1677,1441.8 1679.5,1443.6 1681.9,1445.5 1684.3,1447.3 1686.7,1449.1 1689.2,1450.9 1691.6,1452.7 1694,1454.5 1696.4,1456.3 1698.9,1458.1 1701.3,1459.9 1703.7,1461.8 1706.1,1463.6 1708.6,1465.4 1711,1467.2 1713.4,1469 1715.8,1470.8 1718.2,1472.6 1720.7,1474.4 1723.1,1476.2 1725.5,1478 1727.9,1479.8 1730.4,1481.6 1732.8,1483.4 1735.2,1485.2 1737.6,1487 1740.1,1488.8 1742.5,1490.6 1744.9,1492.4 1747.3,1494.2 1749.8,1496 1752.2,1497.8 1754.6,1499.6 1757,1501.4 1759.5,1503.2 1761.9,1505 1764.3,1506.8 1766.7,1508.6 1769.1,1510.4 1771.6,1512.2 1774,1514 1776.4,1515.8 1778.8,1517.6 1781.3,1519.4 1783.7,1521.2 1786.1,1523 1788.5,1524.8 1791,1526.6 1793.4,1528.3 1795.8,1530.1 1798.2,1531.9 1800.7,1533.7 1803.1,1535.5 1805.5,1537.3 1807.9,1539.1 1810.3,1540.9 1812.8,1542.7 1815.2,1544.4 1817.6,1546.2 1820,1548 1822.5,1549.8 1824.9,1551.6 1827.3,1553.4 1829.7,1555.2 1832.2,1556.9 1834.6,1558.7 1837,1560.5 1839.4,1562.3 1841.9,1564.1 1844.3,1565.9 1846.7,1567.6 1849.1,1569.4 1851.5,1571.2 1854,1573 1856.4,1574.8 1858.8,1576.5 1861.2,1578.3 1863.7,1580.1 1866.1,1581.9 1868.5,1583.6 1870.9,1585.4 1873.4,1587.2 1875.8,1589 1878.2,1590.7 1880.6,1592.5 1883.1,1594.3 1885.5,1596.1 1887.9,1597.8 1890.3,1599.6 1892.8,1601.4 1895.2,1603.2 1897.6,1604.9 1900,1606.7 1902.4,1608.5 1904.9,1610.2 1907.3,1612 1909.7,1613.8 1912.1,1615.5 1914.6,1617.3 1917,1619.1 1919.4,1620.8 1921.8,1622.6 1924.3,1624.4 1926.7,1626.1 1929.1,1627.9 1931.5,1629.7 1934,1631.4 1936.4,1633.2 1938.8,1635 1941.2,1636.7 1943.6,1638.5 1946.1,1640.2 1948.5,1642 1950.9,1643.8 1953.3,1645.5 1955.8,1647.3 1958.2,1649 1960.6,1650.8 1963,1652.6 1965.5,1654.3 1967.9,1656.1 1970.3,1657.8 1972.7,1659.6 1975.2,1661.4 1977.6,1663.1 1980,1664.9 1982.4,1666.6 1984.8,1668.4 1987.3,1670.1 1989.7,1671.9 1992.1,1673.6 1994.5,1675.4 1997,1677.1 1999.4,1678.9 2001.8,1680.6 2004.2,1682.4 2006.7,1684.1 2009.1,1685.9 2011.5,1687.6 2013.9,1689.4 2016.4,1691.1 2018.8,1692.9 2021.2,1694.6 2023.6,1696.4 2026,1698.1 2028.5,1699.9 2030.9,1701.6 2033.3,1703.4 2035.7,1705.1 2038.2,1706.8 2040.6,1708.6 2043,1710.3 2045.4,1712.1 2047.9,1713.8 2050.3,1715.6 2052.7,1717.3 2055.1,1719 2057.6,1720.8 2060,1722.5 2062.4,1724.3 2064.8,1726 2067.2,1727.7 2069.7,1729.5 2072.1,1731.2 2074.5,1732.9 2076.9,1734.7 2079.4,1736.4 2081.8,1738.2 2084.2,1739.9 2086.6,1741.6 2089.1,1743.4 2091.5,1745.1 2093.9,1746.8 2096.3,1748.6 2098.8,1750.3 2101.2,1752 2103.6,1753.8 2106,1755.5 2108.5,1757.2 2110.9,1758.9 2113.3,1760.7 2115.7,1762.4 2118.1,1764.1 2120.6,1765.9 2123,1767.6 2125.4,1769.3 2127.8,1771 2130.3,1772.8 2132.7,1774.5 2135.1,1776.2 2137.5,1777.9 2140,1779.7 2142.4,1781.4 2144.8,1783.1 2147.2,1784.8 2149.7,1786.6 2152.1,1788.3 2154.5,1790" fill="none" stroke="#10c4ff" stroke-width="6.2" stroke-linejoin="round"/>
<polyline points="1282,1139 1284.4,1140.8 1286.8,1142.7 1289.3,1144.5 1291.7,1146.3 1294.1,1148.1 1296.5,1150 1299,1151.8 1301.4,1153.6 1303.8,1155.4 1306.2,1157.3 1308.7,1159.1 1311.1,1160.9 1313.5,1162.7 1315.9,1164.5 1318.4,1166.4 1320.8,1168.2 1323.2,1170 1325.6,1171.8 1328,1173.7 1330.5,1175.5 1332.9,1177.3 1335.3,1179.1 1337.7,1180.9 1340.2,1182.8 1342.6,1184.6 1345,1186.4 1347.4,1188.2 1349.9,1190 1352.3,1191.9 1354.7,1193.7 1357.1,1195.5 1359.6,1197.3 1362,1199.1 1364.4,1201 1366.8,1202.8 1369.2,1204.6 1371.7,1206.4 1374.1,1208.2 1376.5,1210 1378.9,1211.9 1381.4,1213.7 1383.8,1215.5 1386.2,1217.3 1388.6,1219.1 1391.1,1220.9 1393.5,1222.7 1395.9,1224.6 1398.3,1226.4 1400.8,1228.2 1403.2,1230 1405.6,1231.8 1408,1233.6 1410.5,1235.4 1412.9,1237.3 1415.3,1239.1 1417.7,1240.9 1420.1,1242.7 1422.6,1244.5 1425,1246.3 1427.4,1248.1 1429.8,1249.9 1432.3,1251.7 1434.7,1253.6 1437.1,1255.4 1439.5,1257.2 1442,1259 1444.4,1260.8 1446.8,1262.6 1449.2,1264.4 1451.7,1266.2 1454.1,1268 1456.5,1269.8 1458.9,1271.6 1461.3,1273.4 1463.8,1275.2 1466.2,1277.1 1468.6,1278.9 1471,1280.7 1473.5,1282.5 1475.9,1284.3 1478.3,1286.1 1480.7,1287.9 1483.2,1289.7 1485.6,1291.5 1488,1293.3 1490.4,1295.1 1492.9,1296.9 1495.3,1298.7 1497.7,1300.5 1500.1,1302.3 1502.5,1304.1 1505,1305.9 1507.4,1307.7 1509.8,1309.5 1512.2,1311.3 1514.7,1313.1 1517.1,1314.9 1519.5,1316.7 1521.9,1318.5 1524.4,1320.3 1526.8,1322.1 1529.2,1323.9 1531.6,1325.7 1534.1,1327.5 1536.5,1329.3 1538.9,1331.1 1541.3,1332.9 1543.8,1334.7 1546.2,1336.5 1548.6,1338.3 1551,1340.1 1553.4,1341.9 1555.9,1343.7 1558.3,1345.5 1560.7,1347.3 1563.1,1349.1 1565.6,1350.9 1568,1352.7 1570.4,1354.5 1572.8,1356.3 1575.3,1358.1 1577.7,1359.9 1580.1,1361.6 1582.5,1363.4 1585,1365.2 1587.4,1367 1589.8,1368.8 1592.2,1370.6 1594.6,1372.4 1597.1,1374.2 1599.5,1376 1601.9,1377.8 1604.3,1379.6 1606.8,1381.4 1609.2,1383.1 1611.6,1384.9 1614,1386.7 1616.5,1388.5 1618.9,1390.3 1621.3,1392.1 1623.7,1393.9 1626.2,1395.7 1628.6,1397.5 1631,1399.2 1633.4,1401 1635.8,1402.8 1638.3,1404.6 1640.7,1406.4 1643.1,1408.2 1645.5,1410 1648,1411.8 1650.4,1413.5 1652.8,1415.3 1655.2,1417.1 1657.7,1418.9 1660.1,1420.7 1662.5,1422.5 1664.9,1424.2 1667.4,1426 1669.8,1427.8 1672.2,1429.6 1674.6,1431.4 1677,1433.2 1679.5,1434.9 1681.9,1436.7 1684.3,1438.5 1686.7,1440.3 1689.2,1442.1 1691.6,1443.8 1694,1445.6 1696.4,1447.4 1698.9,1449.2 1701.3,1451 1703.7,1452.7 1706.1,1454.5 1708.6,1456.3 1711,1458.1 1713.4,1459.9 1715.8,1461.6 1718.2,1463.4 1720.7,1465.2 1723.1,1467 1725.5,1468.8 1727.9,1470.5 1730.4,1472.3 1732.8,1474.1 1735.2,1475.9 1737.6,1477.6 1740.1,1479.4 1742.5,1481.2 1744.9,1483 1747.3,1484.7 1749.8,1486.5 1752.2,1488.3 1754.6,1490.1 1757,1491.8 1759.5,1493.6 1761.9,1495.4 1764.3,1497.1 1766.7,1498.9 1769.1,1500.7 1771.6,1502.5 1774,1504.2 1776.4,1506 1778.8,1507.8 1781.3,1509.6 1783.7,1511.3 1786.1,1513.1 1788.5,1514.9 1791,1516.6 1793.4,1518.4 1795.8,1520.2 1798.2,1521.9 1800.7,1523.7 1803.1,1525.5 1805.5,1527.2 1807.9,1529 1810.3,1530.8 1812.8,1532.5 1815.2,1534.3 1817.6,1536.1 1820,1537.8 1822.5,1539.6 1824.9,1541.4 1827.3,1543.1 1829.7,1544.9 1832.2,1546.7 1834.6,1548.4 1837,1550.2 1839.4,1552 1841.9,1553.7 1844.3,1555.5 1846.7,1557.3 1849.1,1559 1851.5,1560.8 1854,1562.5 1856.4,1564.3 1858.8,1566.1 1861.2,1567.8 1863.7,1569.6 1866.1,1571.4 1868.5,1573.1 1870.9,1574.9 1873.4,1576.6 1875.8,1578.4 1878.2,1580.2 1880.6,1581.9 1883.1,1583.7 1885.5,1585.4 1887.9,1587.2 1890.3,1589 1892.8,1590.7 1895.2,1592.5 1897.6,1594.2 1900,1596 1902.4,1597.7 1904.9,1599.5 1907.3,1601.3 1909.7,1603 1912.1,1604.8 1914.6,1606.5 1917,1608.3 1919.4,1610 1921.8,1611.8 1924.3,1613.5 1926.7,1615.3 1929.1,1617.1 1931.5,1618.8 1934,1620.6 1936.4,1622.3 1938.8,1624.1 1941.2,1625.8 1943.6,1627.6 1946.1,1629.3 1948.5,1631.1 1950.9,1632.8 1953.3,1634.6 1955.8,1636.3 1958.2,1638.1 1960.6,1639.8 1963,1641.6 1965.5,1643.3 1967.9,1645.1 1970.3,1646.8 1972.7,1648.6 1975.2,1650.3 1977.6,1652.1 1980,1653.8 1982.4,1655.6 1984.8,1657.3 1987.3,1659.1 1989.7,1660.8 1992.1,1662.6 1994.5,1664.3 1997,1666.1 1999.4,1667.8 2001.8,1669.6 2004.2,1671.3 2006.7,1673 2009.1,1674.8 2011.5,1676.5 2013.9,1678.3 2016.4,1680 2018.8,1681.8 2021.2,1683.5 2023.6,1685.3 2026,1687 2028.5,1688.7 2030.9,1690.5 2033.3,1692.2 2035.7,1694 2038.2,1695.7 2040.6,1697.5 2043,1699.2 2045.4,1700.9 2047.9,1702.7 2050.3,1704.4 2052.7,1706.2 2055.1,1707.9 2057.6,1709.6 2060,1711.4 2062.4,1713.1 2064.8,1714.9 2067.2,1716.6 2069.7,1718.3 2072.1,1720.1 2074.5,1721.8 2076.9,1723.5 2079.4,1725.3 2081.8,1727 2084.2,1728.8 2086.6,1730.5 2089.1,1732.2 2091.5,1734 2093.9,1735.7 2096.3,1737.4 2098.8,1739.2 2101.2,1740.9 2103.6,1742.6 2106,1744.4 2108.5,1746.1 2110.9,1747.8 2113.3,1749.6 2115.7,1751.3 2118.1,1753 2120.6,1754.8 2123,1756.5 2125.4,1758.2 2127.8,1760 2130.3,1761.7 2132.7,1763.4 2135.1,1765.2 2137.5,1766.9 2140,1768.6 2142.4,1770.4 2144.8,1772.1 2147.2,1773.8 2149.7,1775.5 2152.1,1777.3 2154.5,1779" fill="none" stroke="#5a86ff" stroke-width="6.2" stroke-linejoin="round"/>
<polyline points="1282,1138 1284.4,1139.7 1286.8,1141.5 1289.3,1143.2 1291.7,1145 1294.1,1146.7 1296.5,1148.5 1299,1150.2 1301.4,1152 1303.8,1153.7 1306.2,1155.5 1308.7,1157.2 1311.1,1159 1313.5,1160.7 1315.9,1162.5 1318.4,1164.2 1320.8,1166 1323.2,1167.7 1325.6,1169.5 1328,1171.2 1330.5,1173 1332.9,1174.7 1335.3,1176.5 1337.7,1178.2 1340.2,1180 1342.6,1181.7 1345,1183.5 1347.4,1185.2 1349.9,1187 1352.3,1188.7 1354.7,1190.5 1357.1,1192.2 1359.6,1194 1362,1195.7 1364.4,1197.5 1366.8,1199.2 1369.2,1201 1371.7,1202.7 1374.1,1204.5 1376.5,1206.2 1378.9,1208 1381.4,1209.7 1383.8,1211.4 1386.2,1213.2 1388.6,1214.9 1391.1,1216.7 1393.5,1218.4 1395.9,1220.2 1398.3,1221.9 1400.8,1223.7 1403.2,1225.4 1405.6,1227.2 1408,1228.9 1410.5,1230.7 1412.9,1232.4 1415.3,1234.2 1417.7,1235.9 1420.1,1237.7 1422.6,1239.4 1425,1241.2 1427.4,1242.9 1429.8,1244.7 1432.3,1246.4 1434.7,1248.2 1437.1,1249.9 1439.5,1251.7 1442,1253.4 1444.4,1255.2 1446.8,1256.9 1449.2,1258.7 1451.7,1260.4 1454.1,1262.2 1456.5,1263.9 1458.9,1265.7 1461.3,1267.4 1463.8,1269.2 1466.2,1270.9 1468.6,1272.7 1471,1274.4 1473.5,1276.2 1475.9,1277.9 1478.3,1279.7 1480.7,1281.4 1483.2,1283.2 1485.6,1284.9 1488,1286.7 1490.4,1288.4 1492.9,1290.2 1495.3,1291.9 1497.7,1293.7 1500.1,1295.4 1502.5,1297.2 1505,1298.9 1507.4,1300.7 1509.8,1302.4 1512.2,1304.2 1514.7,1305.9 1517.1,1307.7 1519.5,1309.4 1521.9,1311.2 1524.4,1313 1526.8,1314.7 1529.2,1316.5 1531.6,1318.2 1534.1,1320 1536.5,1321.7 1538.9,1323.5 1541.3,1325.2 1543.8,1327 1546.2,1328.7 1548.6,1330.5 1551,1332.2 1553.4,1334 1555.9,1335.7 1558.3,1337.5 1560.7,1339.2 1563.1,1341 1565.6,1342.7 1568,1344.5 1570.4,1346.2 1572.8,1348 1575.3,1349.7 1577.7,1351.5 1580.1,1353.2 1582.5,1355 1585,1356.7 1587.4,1358.5 1589.8,1360.2 1592.2,1362 1594.6,1363.7 1597.1,1365.5 1599.5,1367.2 1601.9,1369 1604.3,1370.7 1606.8,1372.5 1609.2,1374.2 1611.6,1376 1614,1377.7 1616.5,1379.5 1618.9,1381.2 1621.3,1383 1623.7,1384.8 1626.2,1386.5 1628.6,1388.3 1631,1390 1633.4,1391.8 1635.8,1393.5 1638.3,1395.3 1640.7,1397 1643.1,1398.8 1645.5,1400.5 1648,1402.3 1650.4,1404 1652.8,1405.8 1655.2,1407.5 1657.7,1409.3 1660.1,1411 1662.5,1412.8 1664.9,1414.5 1667.4,1416.3 1669.8,1418 1672.2,1419.8 1674.6,1421.5 1677,1423.3 1679.5,1425.1 1681.9,1426.8 1684.3,1428.6 1686.7,1430.3 1689.2,1432.1 1691.6,1433.8 1694,1435.6 1696.4,1437.3 1698.9,1439.1 1701.3,1440.8 1703.7,1442.6 1706.1,1444.3 1708.6,1446.1 1711,1447.8 1713.4,1449.6 1715.8,1451.3 1718.2,1453.1 1720.7,1454.8 1723.1,1456.6 1725.5,1458.4 1727.9,1460.1 1730.4,1461.9 1732.8,1463.6 1735.2,1465.4 1737.6,1467.1 1740.1,1468.9 1742.5,1470.6 1744.9,1472.4 1747.3,1474.1 1749.8,1475.9 1752.2,1477.6 1754.6,1479.4 1757,1481.1 1759.5,1482.9 1761.9,1484.6 1764.3,1486.4 1766.7,1488.2 1769.1,1489.9 1771.6,1491.7 1774,1493.4 1776.4,1495.2 1778.8,1496.9 1781.3,1498.7 1783.7,1500.4 1786.1,1502.2 1788.5,1503.9 1791,1505.7 1793.4,1507.4 1795.8,1509.2 1798.2,1510.9 1800.7,1512.7 1803.1,1514.5 1805.5,1516.2 1807.9,1518 1810.3,1519.7 1812.8,1521.5 1815.2,1523.2 1817.6,1525 1820,1526.7 1822.5,1528.5 1824.9,1530.2 1827.3,1532 1829.7,1533.7 1832.2,1535.5 1834.6,1537.3 1837,1539 1839.4,1540.8 1841.9,1542.5 1844.3,1544.3 1846.7,1546 1849.1,1547.8 1851.5,1549.5 1854,1551.3 1856.4,1553 1858.8,1554.8 1861.2,1556.6 1863.7,1558.3 1866.1,1560.1 1868.5,1561.8 1870.9,1563.6 1873.4,1565.3 1875.8,1567.1 1878.2,1568.8 1880.6,1570.6 1883.1,1572.3 1885.5,1574.1 1887.9,1575.8 1890.3,1577.6 1892.8,1579.4 1895.2,1581.1 1897.6,1582.9 1900,1584.6 1902.4,1586.4 1904.9,1588.1 1907.3,1589.9 1909.7,1591.6 1912.1,1593.4 1914.6,1595.1 1917,1596.9 1919.4,1598.7 1921.8,1600.4 1924.3,1602.2 1926.7,1603.9 1929.1,1605.7 1931.5,1607.4 1934,1609.2 1936.4,1610.9 1938.8,1612.7 1941.2,1614.5 1943.6,1616.2 1946.1,1618 1948.5,1619.7 1950.9,1621.5 1953.3,1623.2 1955.8,1625 1958.2,1626.7 1960.6,1628.5 1963,1630.3 1965.5,1632 1967.9,1633.8 1970.3,1635.5 1972.7,1637.3 1975.2,1639 1977.6,1640.8 1980,1642.5 1982.4,1644.3 1984.8,1646.1 1987.3,1647.8 1989.7,1649.6 1992.1,1651.3 1994.5,1653.1 1997,1654.8 1999.4,1656.6 2001.8,1658.3 2004.2,1660.1 2006.7,1661.9 2009.1,1663.6 2011.5,1665.4 2013.9,1667.1 2016.4,1668.9 2018.8,1670.6 2021.2,1672.4 2023.6,1674.1 2026,1675.9 2028.5,1677.7 2030.9,1679.4 2033.3,1681.2 2035.7,1682.9 2038.2,1684.7 2040.6,1686.4 2043,1688.2 2045.4,1689.9 2047.9,1691.7 2050.3,1693.5 2052.7,1695.2 2055.1,1697 2057.6,1698.7 2060,1700.5 2062.4,1702.2 2064.8,1704 2067.2,1705.8 2069.7,1707.5 2072.1,1709.3 2074.5,1711 2076.9,1712.8 2079.4,1714.5 2081.8,1716.3 2084.2,1718 2086.6,1719.8 2089.1,1721.6 2091.5,1723.3 2093.9,1725.1 2096.3,1726.8 2098.8,1728.6 2101.2,1730.3 2103.6,1732.1 2106,1733.9 2108.5,1735.6 2110.9,1737.4 2113.3,1739.1 2115.7,1740.9 2118.1,1742.6 2120.6,1744.4 2123,1746.2 2125.4,1747.9 2127.8,1749.7 2130.3,1751.4 2132.7,1753.2 2135.1,1754.9 2137.5,1756.7 2140,1758.5 2142.4,1760.2 2144.8,1762 2147.2,1763.7 2149.7,1765.5 2152.1,1767.2 2154.5,1769" fill="none" stroke="#b040ff" stroke-width="7.5" stroke-linejoin="round"/>
<polyline points="1282,1136 1284.4,1137.6 1286.8,1139.1 1289.3,1140.7 1291.7,1142.2 1294.1,1143.8 1296.5,1145.3 1299,1146.9 1301.4,1148.4 1303.8,1150 1306.2,1151.6 1308.7,1153.1 1311.1,1154.7 1313.5,1156.2 1315.9,1157.8 1318.4,1159.3 1320.8,1160.9 1323.2,1162.5 1325.6,1164 1328,1165.6 1330.5,1167.2 1332.9,1168.7 1335.3,1170.3 1337.7,1171.9 1340.2,1173.4 1342.6,1175 1345,1176.6 1347.4,1178.1 1349.9,1179.7 1352.3,1181.3 1354.7,1182.8 1357.1,1184.4 1359.6,1186 1362,1187.5 1364.4,1189.1 1366.8,1190.7 1369.2,1192.3 1371.7,1193.8 1374.1,1195.4 1376.5,1197 1378.9,1198.6 1381.4,1200.1 1383.8,1201.7 1386.2,1203.3 1388.6,1204.9 1391.1,1206.4 1393.5,1208 1395.9,1209.6 1398.3,1211.2 1400.8,1212.8 1403.2,1214.3 1405.6,1215.9 1408,1217.5 1410.5,1219.1 1412.9,1220.7 1415.3,1222.3 1417.7,1223.8 1420.1,1225.4 1422.6,1227 1425,1228.6 1427.4,1230.2 1429.8,1231.8 1432.3,1233.4 1434.7,1235 1437.1,1236.5 1439.5,1238.1 1442,1239.7 1444.4,1241.3 1446.8,1242.9 1449.2,1244.5 1451.7,1246.1 1454.1,1247.7 1456.5,1249.3 1458.9,1250.9 1461.3,1252.5 1463.8,1254.1 1466.2,1255.7 1468.6,1257.3 1471,1258.9 1473.5,1260.5 1475.9,1262.1 1478.3,1263.7 1480.7,1265.3 1483.2,1266.9 1485.6,1268.5 1488,1270.1 1490.4,1271.7 1492.9,1273.3 1495.3,1274.9 1497.7,1276.5 1500.1,1278.1 1502.5,1279.7 1505,1281.3 1507.4,1282.9 1509.8,1284.5 1512.2,1286.1 1514.7,1287.7 1517.1,1289.3 1519.5,1290.9 1521.9,1292.6 1524.4,1294.2 1526.8,1295.8 1529.2,1297.4 1531.6,1299 1534.1,1300.6 1536.5,1302.2 1538.9,1303.8 1541.3,1305.5 1543.8,1307.1 1546.2,1308.7 1548.6,1310.3 1551,1311.9 1553.4,1313.5 1555.9,1315.2 1558.3,1316.8 1560.7,1318.4 1563.1,1320 1565.6,1321.6 1568,1323.3 1570.4,1324.9 1572.8,1326.5 1575.3,1328.1 1577.7,1329.8 1580.1,1331.4 1582.5,1333 1585,1334.6 1587.4,1336.3 1589.8,1337.9 1592.2,1339.5 1594.6,1341.1 1597.1,1342.8 1599.5,1344.4 1601.9,1346 1604.3,1347.7 1606.8,1349.3 1609.2,1350.9 1611.6,1352.6 1614,1354.2 1616.5,1355.8 1618.9,1357.5 1621.3,1359.1 1623.7,1360.7 1626.2,1362.4 1628.6,1364 1631,1365.6 1633.4,1367.3 1635.8,1368.9 1638.3,1370.5 1640.7,1372.2 1643.1,1373.8 1645.5,1375.5 1648,1377.1 1650.4,1378.7 1652.8,1380.4 1655.2,1382 1657.7,1383.7 1660.1,1385.3 1662.5,1387 1664.9,1388.6 1667.4,1390.3 1669.8,1391.9 1672.2,1393.5 1674.6,1395.2 1677,1396.8 1679.5,1398.5 1681.9,1400.1 1684.3,1401.8 1686.7,1403.4 1689.2,1405.1 1691.6,1406.7 1694,1408.4 1696.4,1410 1698.9,1411.7 1701.3,1413.4 1703.7,1415 1706.1,1416.7 1708.6,1418.3 1711,1420 1713.4,1421.6 1715.8,1423.3 1718.2,1424.9 1720.7,1426.6 1723.1,1428.3 1725.5,1429.9 1727.9,1431.6 1730.4,1433.2 1732.8,1434.9 1735.2,1436.6 1737.6,1438.2 1740.1,1439.9 1742.5,1441.6 1744.9,1443.2 1747.3,1444.9 1749.8,1446.6 1752.2,1448.2 1754.6,1449.9 1757,1451.6 1759.5,1453.2 1761.9,1454.9 1764.3,1456.6 1766.7,1458.2 1769.1,1459.9 1771.6,1461.6 1774,1463.2 1776.4,1464.9 1778.8,1466.6 1781.3,1468.3 1783.7,1469.9 1786.1,1471.6 1788.5,1473.3 1791,1475 1793.4,1476.6 1795.8,1478.3 1798.2,1480 1800.7,1481.7 1803.1,1483.3 1805.5,1485 1807.9,1486.7 1810.3,1488.4 1812.8,1490.1 1815.2,1491.8 1817.6,1493.4 1820,1495.1 1822.5,1496.8 1824.9,1498.5 1827.3,1500.2 1829.7,1501.9 1832.2,1503.5 1834.6,1505.2 1837,1506.9 1839.4,1508.6 1841.9,1510.3 1844.3,1512 1846.7,1513.7 1849.1,1515.4 1851.5,1517 1854,1518.7 1856.4,1520.4 1858.8,1522.1 1861.2,1523.8 1863.7,1525.5 1866.1,1527.2 1868.5,1528.9 1870.9,1530.6 1873.4,1532.3 1875.8,1534 1878.2,1535.7 1880.6,1537.4 1883.1,1539.1 1885.5,1540.8 1887.9,1542.5 1890.3,1544.2 1892.8,1545.9 1895.2,1547.6 1897.6,1549.3 1900,1551 1902.4,1552.7 1904.9,1554.4 1907.3,1556.1 1909.7,1557.8 1912.1,1559.5 1914.6,1561.2 1917,1562.9 1919.4,1564.6 1921.8,1566.3 1924.3,1568 1926.7,1569.7 1929.1,1571.5 1931.5,1573.2 1934,1574.9 1936.4,1576.6 1938.8,1578.3 1941.2,1580 1943.6,1581.7 1946.1,1583.4 1948.5,1585.1 1950.9,1586.9 1953.3,1588.6 1955.8,1590.3 1958.2,1592 1960.6,1593.7 1963,1595.4 1965.5,1597.2 1967.9,1598.9 1970.3,1600.6 1972.7,1602.3 1975.2,1604 1977.6,1605.8 1980,1607.5 1982.4,1609.2 1984.8,1610.9 1987.3,1612.7 1989.7,1614.4 1992.1,1616.1 1994.5,1617.8 1997,1619.6 1999.4,1621.3 2001.8,1623 2004.2,1624.7 2006.7,1626.5 2009.1,1628.2 2011.5,1629.9 2013.9,1631.7 2016.4,1633.4 2018.8,1635.1 2021.2,1636.8 2023.6,1638.6 2026,1640.3 2028.5,1642 2030.9,1643.8 2033.3,1645.5 2035.7,1647.2 2038.2,1649 2040.6,1650.7 2043,1652.5 2045.4,1654.2 2047.9,1655.9 2050.3,1657.7 2052.7,1659.4 2055.1,1661.2 2057.6,1662.9 2060,1664.6 2062.4,1666.4 2064.8,1668.1 2067.2,1669.9 2069.7,1671.6 2072.1,1673.3 2074.5,1675.1 2076.9,1676.8 2079.4,1678.6 2081.8,1680.3 2084.2,1682.1 2086.6,1683.8 2089.1,1685.6 2091.5,1687.3 2093.9,1689.1 2096.3,1690.8 2098.8,1692.6 2101.2,1694.3 2103.6,1696.1 2106,1697.8 2108.5,1699.6 2110.9,1701.3 2113.3,1703.1 2115.7,1704.8 2118.1,1706.6 2120.6,1708.4 2123,1710.1 2125.4,1711.9 2127.8,1713.6 2130.3,1715.4 2132.7,1717.1 2135.1,1718.9 2137.5,1720.7 2140,1722.4 2142.4,1724.2 2144.8,1725.9 2147.2,1727.7 2149.7,1729.5 2152.1,1731.2 2154.5,1733" fill="none" stroke="#ff22ff" stroke-width="6.2" stroke-linejoin="round"/>
<polyline points="1282,1139.1 1284.4,1141 1286.8,1143 1289.3,1145 1291.7,1146.9 1294.1,1148.9 1296.5,1153.8 1299,1155.8 1301.4,1157.8 1303.8,1159.7 1306.2,1161.7 1308.7,1163.7 1311.1,1169.2 1313.5,1171.2 1315.9,1173.1 1318.4,1175.1 1320.8,1177.1 1323.2,1179 1325.6,1178.1 1328,1180.1 1330.5,1182 1332.9,1184 1335.3,1185.9 1337.7,1187.9 1340.2,1185.7 1342.6,1187.6 1345,1189.6 1347.4,1191.5 1349.9,1193.5 1352.3,1195.4 1354.7,1199.1 1357.1,1201.1 1359.6,1203 1362,1205 1364.4,1206.9 1366.8,1208.9 1369.2,1213.5 1371.7,1215.4 1374.1,1217.4 1376.5,1219.3 1378.9,1221.3 1381.4,1223.2 1383.8,1228.6 1386.2,1230.6 1388.6,1232.5 1391.1,1234.4 1393.5,1236.4 1395.9,1238.3 1398.3,1234.8 1400.8,1236.7 1403.2,1238.6 1405.6,1240.6 1408,1242.5 1410.5,1244.4 1412.9,1243.1 1415.3,1245 1417.7,1247 1420.1,1248.9 1422.6,1250.8 1425,1252.8 1427.4,1259.3 1429.8,1261.2 1432.3,1263.1 1434.7,1265.1 1437.1,1267 1439.5,1268.9 1442,1272.6 1444.4,1274.6 1446.8,1276.5 1449.2,1278.4 1451.7,1280.3 1454.1,1282.3 1456.5,1288.6 1458.9,1290.5 1461.3,1292.4 1463.8,1294.3 1466.2,1296.2 1468.6,1298.2 1471,1300.7 1473.5,1302.6 1475.9,1304.6 1478.3,1306.5 1480.7,1308.4 1483.2,1310.3 1485.6,1309.1 1488,1311 1490.4,1312.9 1492.9,1314.9 1495.3,1316.8 1497.7,1318.7 1500.1,1318.3 1502.5,1320.2 1505,1322.1 1507.4,1324.1 1509.8,1326 1512.2,1327.9 1514.7,1337.6 1517.1,1339.5 1519.5,1341.4 1521.9,1343.4 1524.4,1345.3 1526.8,1347.2 1529.2,1344.2 1531.6,1346.1 1534.1,1348 1536.5,1349.9 1538.9,1351.8 1541.3,1353.7 1543.8,1351.4 1546.2,1353.3 1548.6,1355.2 1551,1357.1 1553.4,1359 1555.9,1360.9 1558.3,1359.3 1560.7,1361.2 1563.1,1363.1 1565.6,1365 1568,1366.9 1570.4,1368.8 1572.8,1372.7 1575.3,1374.6 1577.7,1376.5 1580.1,1378.4 1582.5,1380.3 1585,1382.2 1587.4,1385.4 1589.8,1387.3 1592.2,1389.1 1594.6,1391 1597.1,1392.9 1599.5,1394.8 1601.9,1395.8 1604.3,1397.7 1606.8,1399.6 1609.2,1401.5 1611.6,1403.4 1614,1405.2 1616.5,1407.6 1618.9,1409.4 1621.3,1411.3 1623.7,1413.2 1626.2,1415.1 1628.6,1417 1631,1420.1 1633.4,1422 1635.8,1423.9 1638.3,1425.8 1640.7,1427.6 1643.1,1429.5 1645.5,1433.5 1648,1435.3 1650.4,1437.2 1652.8,1439.1 1655.2,1441 1657.7,1442.8 1660.1,1447.1 1662.5,1449 1664.9,1450.9 1667.4,1452.7 1669.8,1454.6 1672.2,1456.5 1674.6,1456.8 1677,1458.7 1679.5,1460.6 1681.9,1462.4 1684.3,1464.3 1686.7,1466.2 1689.2,1460.8 1691.6,1462.7 1694,1464.5 1696.4,1466.4 1698.9,1468.2 1701.3,1470.1 1703.7,1476 1706.1,1477.8 1708.6,1479.7 1711,1481.5 1713.4,1483.4 1715.8,1485.2 1718.2,1482.5 1720.7,1484.4 1723.1,1486.2 1725.5,1488.1 1727.9,1489.9 1730.4,1491.8 1732.8,1495.1 1735.2,1497 1737.6,1498.8 1740.1,1500.7 1742.5,1502.5 1744.9,1504.4 1747.3,1502.8 1749.8,1504.7 1752.2,1506.5 1754.6,1508.4 1757,1510.2 1759.5,1512.1 1761.9,1516.8 1764.3,1518.6 1766.7,1520.5 1769.1,1522.3 1771.6,1524.2 1774,1526 1776.4,1526.9 1778.8,1528.8 1781.3,1530.6 1783.7,1532.5 1786.1,1534.3 1788.5,1536.1 1791,1540.6 1793.4,1542.5 1795.8,1544.3 1798.2,1546.2 1800.7,1548 1803.1,1549.8 1805.5,1563 1807.9,1564.8 1810.3,1566.7 1812.8,1568.5 1815.2,1570.3 1817.6,1572.2 1820,1569.5 1822.5,1571.3 1824.9,1573.2 1827.3,1575 1829.7,1576.8 1832.2,1578.7 1834.6,1580.9 1837,1582.7 1839.4,1584.5 1841.9,1586.3 1844.3,1588.2 1846.7,1590 1849.1,1585.1 1851.5,1586.9 1854,1588.7 1856.4,1590.6 1858.8,1592.4 1861.2,1594.2 1863.7,1595.6 1866.1,1597.5 1868.5,1599.3 1870.9,1601.1 1873.4,1602.9 1875.8,1604.7 1878.2,1609.4 1880.6,1611.2 1883.1,1613 1885.5,1614.8 1887.9,1616.6 1890.3,1618.4 1892.8,1619.4 1895.2,1621.2 1897.6,1623 1900,1624.8 1902.4,1626.6 1904.9,1628.4 1907.3,1631.3 1909.7,1633.1 1912.1,1634.9 1914.6,1636.7 1917,1638.5 1919.4,1640.3 1921.8,1641.8 1924.3,1643.6 1926.7,1645.4 1929.1,1647.2 1931.5,1649 1934,1650.8 1936.4,1648.9 1938.8,1650.7 1941.2,1652.5 1943.6,1654.3 1946.1,1656.1 1948.5,1657.9 1950.9,1662.7 1953.3,1664.5 1955.8,1666.2 1958.2,1668 1960.6,1669.8 1963,1671.6 1965.5,1670.7 1967.9,1672.5 1970.3,1674.2 1972.7,1676 1975.2,1677.8 1977.6,1679.6 1980,1688.5 1982.4,1690.3 1984.8,1692 1987.3,1693.8 1989.7,1695.6 1992.1,1697.4 1994.5,1695.5 1997,1697.3 1999.4,1699 2001.8,1700.8 2004.2,1702.6 2006.7,1704.4 2009.1,1707.9 2011.5,1709.7 2013.9,1711.5 2016.4,1713.3 2018.8,1715.1 2021.2,1716.8 2023.6,1717.4 2026,1719.2 2028.5,1721 2030.9,1722.7 2033.3,1724.5 2035.7,1726.3 2038.2,1730.4 2040.6,1732.2 2043,1734 2045.4,1735.8 2047.9,1737.5 2050.3,1739.3 2052.7,1737.4 2055.1,1739.2 2057.6,1740.9 2060,1742.7 2062.4,1744.5 2064.8,1746.2 2067.2,1751.1 2069.7,1752.9 2072.1,1754.6 2074.5,1756.4 2076.9,1758.2 2079.4,1759.9 2081.8,1759.8 2084.2,1761.6 2086.6,1763.3 2089.1,1765.1 2091.5,1766.9 2093.9,1768.6 2096.3,1773.8 2098.8,1775.5 2101.2,1777.3 2103.6,1779.1 2106,1780.8 2108.5,1782.6 2110.9,1784.2 2113.3,1785.9 2115.7,1787.7 2118.1,1789.4 2120.6,1791.2 2123,1792.9 2125.4,1793 2127.8,1794.8 2130.3,1796.5 2132.7,1798.3 2135.1,1800 2137.5,1801.8 2140,1799.7 2142.4,1801.4 2144.8,1803.2 2147.2,1804.9 2149.7,1806.7 2152.1,1808.4 2154.5,1813" fill="none" stroke="#ff1818" stroke-width="6" stroke-linejoin="round"/>
<line x1="1311.5" y1="1471.6" x2="1409.8" y2="1471.6" stroke="#ff5050" stroke-width="5"/>
<rect x="1357" y="1467.6" width="8" height="8" fill="#ff5050"/>
<text x="1420" y="1487.1" font-size="68.5" font-weight="normal" font-style="normal" text-anchor="start" fill="#111" >300 K</text>
<line x1="1311.5" y1="1549.3" x2="1409.8" y2="1549.3" stroke="#00c0ff" stroke-width="6"/>
<rect x="1357" y="1545.3" width="8" height="8" fill="#00c0ff"/>
<text x="1420" y="1564.8" font-size="68.5" font-weight="normal" font-style="normal" text-anchor="start" fill="#111" >250 K</text>
<line x1="1311.5" y1="1628.4" x2="1409.8" y2="1628.4" stroke="#7486ff" stroke-width="7"/>
<rect x="1357" y="1624.4" width="8" height="8" fill="#7486ff"/>
<text x="1420" y="1643.9" font-size="68.5" font-weight="normal" font-style="normal" text-anchor="start" fill="#111" >200 K</text>
<line x1="1311.5" y1="1705.5" x2="1409.8" y2="1705.5" stroke="#b848ff" stroke-width="8"/>
<rect x="1357" y="1701.5" width="8" height="8" fill="#b848ff"/>
<text x="1420" y="1721" font-size="68.5" font-weight="normal" font-style="normal" text-anchor="start" fill="#111" >150 K</text>
<line x1="1311.5" y1="1783.6" x2="1409.8" y2="1783.6" stroke="#ff2cff" stroke-width="7.5"/>
<rect x="1357" y="1779.6" width="8" height="8" fill="#ff2cff"/>
<text x="1420" y="1799.1" font-size="68.5" font-weight="normal" font-style="normal" text-anchor="start" fill="#111" >100 K</text>
<rect x="1282" y="1091" width="872.5" height="745.5" fill="none" stroke="#1c1c1c" stroke-width="5.5"/>
<line x1="1379" y1="1833.8" x2="1379" y2="1826.8" stroke="#1c1c1c" stroke-width="4.5"/>
<line x1="1476" y1="1833.8" x2="1476" y2="1819.8" stroke="#1c1c1c" stroke-width="4.5"/>
<line x1="1573" y1="1833.8" x2="1573" y2="1826.8" stroke="#1c1c1c" stroke-width="4.5"/>
<line x1="1670" y1="1833.8" x2="1670" y2="1819.8" stroke="#1c1c1c" stroke-width="4.5"/>
<line x1="1767" y1="1833.8" x2="1767" y2="1826.8" stroke="#1c1c1c" stroke-width="4.5"/>
<line x1="1864" y1="1833.8" x2="1864" y2="1819.8" stroke="#1c1c1c" stroke-width="4.5"/>
<line x1="1961" y1="1833.8" x2="1961" y2="1826.8" stroke="#1c1c1c" stroke-width="4.5"/>
<line x1="2058" y1="1833.8" x2="2058" y2="1819.8" stroke="#1c1c1c" stroke-width="4.5"/>
<line x1="2155" y1="1833.8" x2="2155" y2="1826.8" stroke="#1c1c1c" stroke-width="4.5"/>
<line x1="1284.8" y1="1231" x2="1291.8" y2="1231" stroke="#1c1c1c" stroke-width="4.5"/>
<line x1="1284.8" y1="1324" x2="1298.8" y2="1324" stroke="#1c1c1c" stroke-width="4.5"/>
<line x1="1284.8" y1="1417" x2="1291.8" y2="1417" stroke="#1c1c1c" stroke-width="4.5"/>
<line x1="1284.8" y1="1510" x2="1298.8" y2="1510" stroke="#1c1c1c" stroke-width="4.5"/>
<line x1="1284.8" y1="1603" x2="1291.8" y2="1603" stroke="#1c1c1c" stroke-width="4.5"/>
<line x1="1284.8" y1="1696" x2="1298.8" y2="1696" stroke="#1c1c1c" stroke-width="4.5"/>
<line x1="1284.8" y1="1789" x2="1291.8" y2="1789" stroke="#1c1c1c" stroke-width="4.5"/>
<text x="1282" y="1902" font-size="61" font-weight="bold" font-style="normal" text-anchor="middle" fill="#111" >0</text>
<text x="1476" y="1902" font-size="61" font-weight="bold" font-style="normal" text-anchor="middle" fill="#111" >2</text>
<text x="1670" y="1902" font-size="61" font-weight="bold" font-style="normal" text-anchor="middle" fill="#111" >4</text>
<text x="1864" y="1902" font-size="61" font-weight="bold" font-style="normal" text-anchor="middle" fill="#111" >6</text>
<text x="2058" y="1902" font-size="61" font-weight="bold" font-style="normal" text-anchor="middle" fill="#111" >8</text>
<text x="1261" y="1156" font-size="61" font-weight="bold" font-style="normal" text-anchor="end" fill="#111" >0</text>
<text x="1261" y="1342" font-size="61" font-weight="bold" font-style="normal" text-anchor="end" fill="#111" >-2</text>
<text x="1261" y="1528" font-size="61" font-weight="bold" font-style="normal" text-anchor="end" fill="#111" >-4</text>
<text x="1261" y="1714" font-size="61" font-weight="bold" font-style="normal" text-anchor="end" fill="#111" >-6</text>
<text x="1717" y="1973.5" font-size="67" font-weight="bold" text-anchor="middle" fill="#111"><tspan font-style="italic">B</tspan> (T)</text>
<text transform="translate(1148,1442) rotate(-90)" font-size="64" font-weight="bold" text-anchor="middle" fill="#111"><tspan font-style="italic">R</tspan><tspan font-size="42" dy="16" font-style="italic">xy</tspan><tspan dy="-16"> (Ω)</tspan></text>
</svg>
</body></html>
